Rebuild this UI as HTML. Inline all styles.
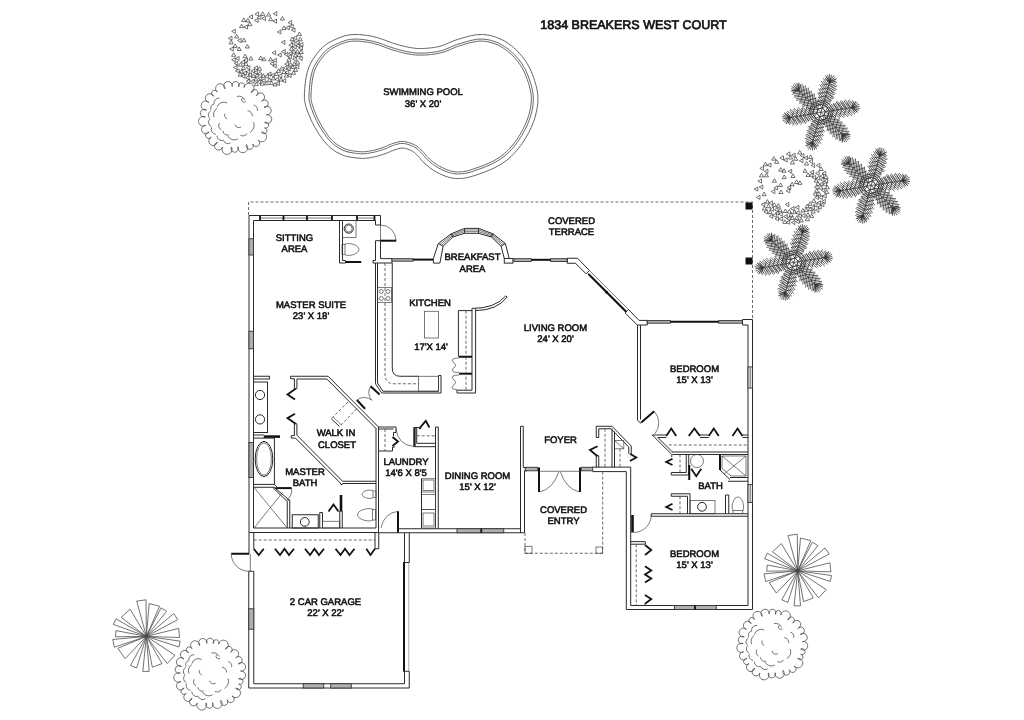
<!DOCTYPE html>
<html lang="en"><head><meta charset="utf-8"><title>1834 Breakers West Court</title><style>
html,body{margin:0;padding:0;background:#fff;}
svg{display:block;filter:grayscale(1);}
.w{stroke:#2a2a2a;stroke-width:1;fill:none;}
.wf{stroke:#2a2a2a;stroke-width:1;fill:#fff;}
.th{stroke:#444;stroke-width:.7;fill:none;}
.k{stroke:#111;stroke-width:2;fill:none;}
.k3{stroke:#111;stroke-width:2.6;fill:none;}
.b{stroke:#111;stroke-width:1.8;fill:none;stroke-linejoin:miter;}
.d{stroke:#444;stroke-width:.8;fill:none;stroke-dasharray:3 2;}
.g{stroke:#333;stroke-width:.9;fill:#b0b0b0;}
.gl{stroke:#333;stroke-width:.9;fill:#e4e4e4;}
.lt{stroke:#999;stroke-width:.8;fill:none;}
.bk{fill:#111;stroke:none;}
.tr{stroke:#444;stroke-width:.75;fill:none;}
.tr2{stroke:#3a3a3a;stroke-width:.7;fill:none;}
.pm{stroke:#2e2e2e;stroke-width:.75;fill:none;}
.pool{stroke:#555;stroke-width:.9;fill:none;}
.tt{stroke-width:.7 !important;}
.t{font-family:"Liberation Sans",sans-serif;fill:#111;text-anchor:middle;stroke:#111;stroke-width:.55;text-rendering:geometricPrecision;}
</style></head><body>
<svg width="1024" height="720" viewBox="0 0 1024 720">
<rect x="0" y="0" width="1024" height="720" fill="#fff"/>
<path d="M304.5,92.5 L304.7,89.8 L304.9,86.8 L305.2,83.6 L305.7,80.3 L306.2,76.9 L306.9,73.6 L307.7,70.5 L308.8,67.5 L310,64.7 L311.4,61.9 L313,59.2 L314.8,56.6 L316.7,54 L318.6,51.7 L320.5,49.5 L322.5,47.5 L324.5,45.7 L326.7,44.1 L328.9,42.7 L331.2,41.4 L333.5,40.3 L335.7,39.3 L337.9,38.3 L340,37.5 L342,36.8 L343.8,36.1 L345.6,35.6 L347.3,35.2 L349.1,34.9 L351,34.7 L352.9,34.6 L355,34.5 L357.3,34.5 L359.6,34.6 L362.1,34.8 L364.7,35.1 L367.3,35.5 L369.9,35.9 L372.5,36.4 L375,37 L377.5,37.7 L380.1,38.5 L382.7,39.4 L385.3,40.3 L387.9,41.3 L390.4,42.2 L392.7,43 L395,43.8 L397.1,44.4 L399.2,45 L401.1,45.5 L403,46 L404.8,46.4 L406.5,46.8 L408.3,47.2 L410,47.5 L411.6,47.8 L413.2,48 L414.7,48.2 L416.1,48.4 L417.6,48.5 L419.1,48.5 L420.7,48.5 L422.5,48.5 L424.4,48.4 L426.5,48.3 L428.7,48.1 L430.9,47.9 L433.2,47.6 L435.5,47.2 L437.8,46.8 L440,46.2 L442.2,45.6 L444.3,44.8 L446.3,44 L448.4,43 L450.6,42.1 L452.8,41.2 L455.1,40.3 L457.5,39.5 L460.1,38.7 L462.8,37.9 L465.7,37.1 L468.6,36.3 L471.5,35.6 L474.4,35.1 L477.3,34.7 L480,34.5 L482.6,34.5 L485.2,34.7 L487.8,35.1 L490.3,35.5 L492.8,36.1 L495.2,36.9 L497.6,37.8 L500,38.8 L502.3,39.9 L504.7,41.2 L507,42.6 L509.2,44.2 L511.4,45.8 L513.5,47.6 L515.6,49.4 L517.5,51.2 L519.3,53.2 L521.1,55.1 L522.8,57.2 L524.4,59.3 L525.9,61.5 L527.3,63.8 L528.7,66.2 L530,68.8 L531.2,71.4 L532.4,74.3 L533.6,77.4 L534.6,80.5 L535.5,83.6 L536.4,86.7 L537,89.7 L537.5,92.5 L537.8,95.2 L537.9,97.8 L537.9,100.3 L537.8,102.7 L537.6,105.2 L537.2,107.6 L536.8,110 L536.2,112.5 L535.7,115 L535,117.5 L534.2,120 L533.3,122.5 L532.3,125 L531.2,127.5 L530,130 L528.8,132.5 L527.4,135 L525.8,137.6 L524.2,140.3 L522.5,142.9 L520.7,145.5 L518.8,147.9 L516.9,150.3 L515,152.5 L513,154.5 L511.1,156.5 L509,158.3 L507,160 L504.8,161.6 L502.5,163.2 L500.1,164.8 L497.5,166.2 L494.7,167.7 L491.5,169.2 L488.2,170.6 L484.8,172 L481.4,173.2 L478.1,174.4 L475.1,175.4 L472.5,176.2 L470.2,176.9 L468.2,177.4 L466.4,177.8 L464.8,178.1 L463.2,178.3 L461.7,178.4 L460.3,178.5 L458.8,178.5 L457.2,178.5 L455.8,178.5 L454.4,178.4 L453,178.2 L451.7,178 L450.3,177.7 L448.9,177.3 L447.5,176.9 L446,176.4 L444.4,175.8 L442.8,175.2 L441.2,174.4 L439.6,173.7 L438,172.9 L436.5,172.1 L435,171.2 L433.6,170.4 L432.2,169.5 L430.9,168.5 L429.6,167.6 L428.4,166.6 L427.2,165.6 L426.1,164.7 L425,163.8 L424,162.9 L423.2,162 L422.4,161.1 L421.6,160.2 L420.9,159.4 L420.2,158.5 L419.5,157.7 L418.8,156.9 L418,156.1 L417.3,155.3 L416.5,154.6 L415.8,153.8 L415.1,153.1 L414.3,152.5 L413.4,151.8 L412.5,151.2 L411.5,150.7 L410.3,150.2 L409.1,149.7 L407.9,149.2 L406.7,148.8 L405.4,148.5 L404.2,148.2 L403.1,148.1 L402,148.1 L401,148.1 L400.1,148.3 L399.1,148.5 L398.1,148.7 L397.1,149.1 L396.1,149.4 L395,149.8 L393.9,150.1 L392.7,150.6 L391.5,151.1 L390.3,151.6 L389,152.2 L387.7,152.7 L386.4,153.3 L385,153.8 L383.6,154.2 L382.1,154.7 L380.5,155.2 L378.9,155.7 L377.3,156.1 L375.7,156.6 L374.1,156.9 L372.5,157.2 L371,157.5 L369.5,157.8 L368,158 L366.6,158.2 L365.1,158.3 L363.5,158.4 L361.8,158.4 L360,158.3 L358,158.1 L355.9,157.9 L353.7,157.7 L351.4,157.3 L349.1,156.9 L346.8,156.4 L344.6,155.8 L342.5,155 L340.5,154.1 L338.5,153.1 L336.6,152.1 L334.7,150.9 L332.8,149.6 L331,148.2 L329.2,146.7 L327.5,145 L325.8,143.2 L324.1,141.2 L322.5,139.1 L320.9,136.9 L319.3,134.6 L317.8,132.2 L316.4,129.9 L315,127.5 L313.7,125.1 L312.4,122.6 L311.1,120 L310,117.3 L308.9,114.7 L307.9,112.2 L307,109.8 L306.2,107.5 L305.7,105.5 L305.2,103.6 L304.8,101.9 L304.6,100.3 L304.4,98.6 L304.4,96.8 L304.4,94.8 Z" class="pool"/>
<path d="M309.1,92.8 L309.3,90.2 L309.5,87.2 L309.8,84.2 L310.2,81 L310.7,77.8 L311.4,74.7 L312.1,71.8 L313,69.2 L314.1,66.7 L315.5,64.1 L316.9,61.6 L318.6,59.2 L320.3,56.9 L322.1,54.7 L323.9,52.6 L325.7,50.8 L327.4,49.3 L329.3,47.9 L331.3,46.7 L333.3,45.5 L335.4,44.5 L337.6,43.5 L339.7,42.6 L341.7,41.8 L343.5,41.1 L345.2,40.5 L346.7,40.1 L348.2,39.7 L349.8,39.5 L351.4,39.3 L353.1,39.2 L355,39.1 L357.1,39.1 L359.3,39.2 L361.7,39.4 L364.1,39.7 L366.6,40.1 L369.1,40.5 L371.5,41 L373.9,41.5 L376.3,42.1 L378.7,42.8 L381.2,43.7 L383.7,44.6 L386.3,45.6 L388.8,46.5 L391.3,47.4 L393.6,48.1 L395.8,48.8 L397.9,49.4 L399.9,49.9 L401.8,50.4 L403.7,50.9 L405.6,51.3 L407.4,51.7 L409.2,52 L410.9,52.3 L412.5,52.6 L414.1,52.8 L415.7,53 L417.3,53.1 L419,53.1 L420.8,53.1 L422.7,53.1 L424.7,53 L426.9,52.9 L429.1,52.7 L431.5,52.4 L433.9,52.1 L436.3,51.7 L438.7,51.3 L441.2,50.7 L443.6,50 L445.9,49.1 L448.2,48.2 L450.3,47.3 L452.4,46.3 L454.5,45.4 L456.6,44.6 L458.9,43.9 L461.4,43.1 L464.1,42.3 L466.9,41.5 L469.7,40.8 L472.5,40.1 L475.2,39.6 L477.7,39.2 L480.1,39.1 L482.4,39.1 L484.8,39.3 L487.1,39.6 L489.3,40 L491.6,40.6 L493.8,41.3 L496,42 L498.1,42.9 L500.2,44 L502.3,45.1 L504.4,46.5 L506.5,47.9 L508.6,49.4 L510.5,51.1 L512.4,52.8 L514.2,54.5 L516,56.3 L517.6,58.1 L519.2,60 L520.6,62 L522.1,64 L523.4,66.2 L524.7,68.4 L525.9,70.8 L527,73.3 L528.2,76 L529.2,78.9 L530.2,81.9 L531.1,84.8 L531.9,87.8 L532.5,90.6 L532.9,93.2 L533.2,95.6 L533.4,97.9 L533.3,100.1 L533.2,102.4 L533,104.6 L532.7,106.8 L532.3,109.1 L531.8,111.5 L531.2,113.9 L530.6,116.2 L529.8,118.5 L529,120.9 L528,123.2 L527,125.6 L525.9,128 L524.7,130.3 L523.4,132.8 L521.9,135.3 L520.3,137.8 L518.7,140.3 L517,142.8 L515.2,145.1 L513.4,147.3 L511.6,149.4 L509.8,151.3 L507.9,153.1 L506,154.8 L504.1,156.4 L502.1,157.9 L500,159.4 L497.7,160.8 L495.3,162.2 L492.6,163.6 L489.6,165 L486.4,166.4 L483.1,167.7 L479.8,168.9 L476.6,170 L473.7,171 L471.1,171.9 L469,172.5 L467.2,173 L465.6,173.3 L464.1,173.5 L462.8,173.7 L461.5,173.8 L460.1,173.9 L458.7,173.9 L457.3,173.9 L456,173.9 L454.9,173.8 L453.7,173.6 L452.6,173.4 L451.4,173.2 L450.2,172.9 L448.9,172.5 L447.5,172.1 L446.1,171.5 L444.6,170.9 L443.1,170.3 L441.6,169.5 L440.1,168.8 L438.7,168 L437.3,167.3 L436.1,166.5 L434.8,165.7 L433.6,164.8 L432.4,163.9 L431.2,163 L430.1,162.1 L429.1,161.2 L428.1,160.3 L427.3,159.6 L426.5,158.8 L425.8,158.1 L425.2,157.2 L424.5,156.4 L423.7,155.5 L422.9,154.6 L422.1,153.7 L421.3,152.9 L420.6,152.2 L419.9,151.4 L419.1,150.6 L418.2,149.7 L417.1,148.9 L416,148 L414.8,147.3 L413.5,146.6 L412.2,146 L410.8,145.4 L409.4,144.9 L408,144.4 L406.5,144 L405,143.7 L403.5,143.5 L402,143.5 L400.6,143.5 L399.2,143.7 L398,144 L396.8,144.3 L395.7,144.7 L394.7,145 L393.6,145.4 L392.3,145.8 L391,146.3 L389.7,146.9 L388.4,147.4 L387.2,148 L386,148.5 L384.8,149 L383.5,149.4 L382.1,149.9 L380.7,150.3 L379.1,150.8 L377.6,151.3 L376.1,151.7 L374.6,152.1 L373.1,152.4 L371.6,152.7 L370.2,153 L368.7,153.2 L367.4,153.5 L366.1,153.6 L364.8,153.7 L363.4,153.8 L361.9,153.8 L360.3,153.7 L358.4,153.6 L356.4,153.4 L354.3,153.1 L352.2,152.8 L350,152.4 L348,151.9 L346,151.4 L344.2,150.7 L342.4,150 L340.7,149.1 L338.9,148.1 L337.2,147 L335.6,145.9 L333.9,144.6 L332.3,143.2 L330.8,141.8 L329.2,140.1 L327.7,138.3 L326.1,136.3 L324.6,134.2 L323.1,132 L321.7,129.8 L320.3,127.5 L319,125.2 L317.7,122.9 L316.5,120.5 L315.3,118 L314.2,115.5 L313.1,113 L312.2,110.6 L311.3,108.3 L310.6,106.1 L310.1,104.2 L309.7,102.6 L309.3,101.1 L309.1,99.7 L309,98.4 L309,96.8 L309,95 Z" class="pool"/>
<path d="M311.1,92.9 L311.3,90.3 L311.5,87.4 L311.8,84.4 L312.2,81.3 L312.7,78.1 L313.3,75.1 L314,72.4 L314.9,69.9 L315.9,67.5 L317.2,65.1 L318.6,62.7 L320.2,60.3 L321.9,58.1 L323.6,56 L325.3,54 L327,52.3 L328.7,50.9 L330.4,49.6 L332.3,48.4 L334.3,47.3 L336.3,46.3 L338.4,45.3 L340.4,44.4 L342.4,43.6 L344.2,43 L345.8,42.4 L347.2,42 L348.6,41.7 L350.1,41.4 L351.6,41.3 L353.2,41.2 L355.1,41.1 L357.1,41.1 L359.2,41.2 L361.5,41.4 L363.8,41.7 L366.3,42 L368.7,42.4 L371.1,42.9 L373.5,43.4 L375.7,44 L378.1,44.7 L380.5,45.6 L383,46.5 L385.6,47.4 L388.1,48.4 L390.6,49.3 L393,50.1 L395.3,50.7 L397.4,51.3 L399.4,51.9 L401.4,52.4 L403.3,52.9 L405.1,53.3 L407,53.7 L408.9,54 L410.6,54.3 L412.2,54.5 L413.9,54.8 L415.5,54.9 L417.2,55.1 L418.9,55.1 L420.8,55.1 L422.8,55.1 L424.8,55 L427,54.9 L429.3,54.7 L431.7,54.4 L434.2,54.1 L436.6,53.7 L439.2,53.2 L441.7,52.6 L444.2,51.9 L446.7,51 L448.9,50 L451.1,49.1 L453.2,48.2 L455.2,47.3 L457.3,46.5 L459.5,45.8 L462,45.1 L464.7,44.2 L467.4,43.5 L470.2,42.7 L472.9,42.1 L475.5,41.6 L477.9,41.2 L480.2,41.1 L482.4,41.1 L484.6,41.3 L486.8,41.6 L488.9,42 L491,42.5 L493.1,43.2 L495.2,43.9 L497.3,44.8 L499.3,45.7 L501.3,46.9 L503.3,48.1 L505.3,49.5 L507.3,51 L509.2,52.6 L511.1,54.2 L512.8,55.9 L514.5,57.6 L516.1,59.4 L517.6,61.3 L519,63.2 L520.4,65.1 L521.7,67.2 L522.9,69.4 L524.1,71.6 L525.2,74.1 L526.3,76.8 L527.3,79.6 L528.3,82.5 L529.2,85.4 L529.9,88.2 L530.5,90.9 L531,93.4 L531.2,95.7 L531.4,97.9 L531.3,100.1 L531.2,102.2 L531,104.3 L530.7,106.5 L530.3,108.8 L529.8,111.1 L529.3,113.4 L528.6,115.6 L527.9,117.9 L527.1,120.2 L526.2,122.5 L525.2,124.8 L524.1,127.1 L522.9,129.4 L521.6,131.8 L520.2,134.3 L518.6,136.7 L517,139.2 L515.4,141.6 L513.6,143.9 L511.9,146 L510.1,148 L508.4,149.9 L506.6,151.6 L504.7,153.3 L502.9,154.8 L500.9,156.3 L498.9,157.7 L496.6,159.1 L494.3,160.5 L491.7,161.8 L488.8,163.2 L485.7,164.5 L482.4,165.8 L479.1,167 L476,168.1 L473.1,169.1 L470.5,169.9 L468.5,170.6 L466.7,171 L465.2,171.3 L463.8,171.6 L462.6,171.7 L461.4,171.8 L460,171.9 L458.6,171.9 L457.3,171.9 L456.1,171.9 L455.1,171.8 L454,171.7 L452.9,171.5 L451.8,171.2 L450.7,171 L449.5,170.6 L448.2,170.2 L446.8,169.7 L445.4,169.1 L443.9,168.4 L442.5,167.7 L441,167 L439.6,166.3 L438.3,165.6 L437.2,164.8 L436,164 L434.8,163.2 L433.6,162.3 L432.5,161.4 L431.4,160.6 L430.4,159.7 L429.4,158.8 L428.7,158.1 L428,157.5 L427.4,156.7 L426.7,156 L426,155.1 L425.2,154.2 L424.4,153.2 L423.5,152.3 L422.8,151.6 L422.1,150.8 L421.3,150 L420.5,149.1 L419.5,148.2 L418.4,147.3 L417.1,146.4 L415.8,145.5 L414.4,144.8 L413,144.1 L411.6,143.5 L410.1,143 L408.5,142.5 L406.9,142.1 L405.3,141.7 L403.7,141.5 L402,141.5 L400.4,141.6 L398.9,141.8 L397.5,142.1 L396.2,142.4 L395.1,142.8 L394.1,143.1 L392.9,143.5 L391.6,143.9 L390.2,144.5 L388.9,145 L387.6,145.6 L386.4,146.1 L385.2,146.6 L384.1,147.1 L382.9,147.5 L381.5,148 L380,148.4 L378.6,148.9 L377.1,149.3 L375.6,149.8 L374.1,150.2 L372.7,150.5 L371.3,150.8 L369.8,151 L368.4,151.3 L367.1,151.5 L365.9,151.6 L364.6,151.7 L363.4,151.8 L362,151.8 L360.4,151.7 L358.6,151.6 L356.6,151.4 L354.6,151.1 L352.5,150.8 L350.4,150.5 L348.5,150 L346.6,149.5 L344.9,148.9 L343.3,148.1 L341.6,147.3 L339.9,146.4 L338.3,145.4 L336.7,144.3 L335.2,143.1 L333.7,141.8 L332.2,140.3 L330.7,138.8 L329.2,137 L327.7,135.1 L326.3,133.1 L324.8,130.9 L323.4,128.7 L322,126.5 L320.8,124.3 L319.5,122 L318.3,119.6 L317.1,117.2 L316,114.7 L315,112.3 L314,109.9 L313.2,107.6 L312.6,105.6 L312,103.7 L311.6,102.1 L311.3,100.7 L311.1,99.5 L311,98.2 L311,96.8 L311,95 Z" class="pool"/>
<path d="M298.8,48.1 L302.4,46.0 L302.4,50.2Z M259.1,76.9 L254.9,76.9 L257.0,73.3Z M278.1,75.8 L281.7,73.8 L281.7,77.9Z M266.6,81.1 L268.7,84.7 L264.5,84.7Z M288.8,45.2 L292.4,43.1 L292.4,47.3Z M247.9,74.9 L251.5,72.8 L251.5,77.0Z M288.4,77.1 L284.2,77.1 L286.3,73.5Z M298.7,58.4 L302.3,56.4 L302.3,60.5Z M246.3,67.7 L249.9,65.7 L249.9,69.8Z M293.2,37.9 L296.8,35.8 L296.8,40.0Z M245.6,69.5 L241.4,69.5 L243.5,65.9Z M295.4,53.3 L297.5,56.9 L293.3,56.9Z M294.2,40.7 L290.0,40.7 L292.1,37.1Z M291.0,61.2 L286.8,61.2 L288.9,57.6Z M264.8,76.3 L268.4,74.3 L268.4,78.4Z M233.4,67.4 L237.0,65.3 L237.0,69.4Z M292.6,47.0 L296.2,45.0 L296.2,49.1Z M257.0,81.9 L260.6,79.9 L260.6,84.0Z M294.3,61.7 L296.4,65.3 L292.3,65.3Z M241.3,76.2 L244.9,74.1 L244.9,78.2Z M253.5,73.9 L255.6,77.5 L251.4,77.5Z M297.5,49.5 L299.6,53.1 L295.4,53.1Z M286.7,68.7 L290.3,66.7 L290.3,70.8Z M283.2,81.1 L279.0,81.1 L281.1,77.5Z M278.5,68.8 L280.6,72.4 L276.4,72.4Z M283.2,67.8 L286.8,65.8 L286.8,69.9Z M275.4,79.9 L271.3,79.9 L273.3,76.3Z M248.1,65.6 L243.9,65.6 L246.0,62.0Z M250.5,81.3 L254.1,79.2 L254.1,83.4Z M302.3,40.9 L298.1,40.9 L300.2,37.3Z M275.1,79.4 L278.7,77.3 L278.7,81.5Z M296.0,45.7 L299.6,43.6 L299.6,47.8Z M284.8,64.0 L288.4,61.9 L288.4,66.1Z M271.5,81.0 L273.5,84.6 L269.4,84.6Z M261.6,80.5 L265.2,78.5 L265.2,82.6Z M295.2,66.8 L298.8,64.7 L298.8,68.8Z M246.2,81.2 L249.8,79.1 L249.8,83.2Z M270.7,75.2 L274.3,73.2 L274.3,77.3Z M282.1,80.8 L285.7,78.7 L285.7,82.9Z M256.1,77.3 L258.2,80.9 L254.0,80.9Z M235.5,71.0 L239.1,68.9 L239.1,73.0Z M294.8,68.6 L290.6,68.6 L292.7,65.0Z M242.8,73.1 L246.4,71.0 L246.4,75.2Z M297.6,60.4 L299.7,64.0 L295.5,64.0Z M251.0,70.9 L254.6,68.9 L254.6,73.0Z M240.5,62.6 L242.5,66.2 L238.4,66.2Z M299.3,44.6 L302.9,42.5 L302.9,46.7Z M295.7,74.3 L291.5,74.3 L293.6,70.7Z M292.7,59.2 L296.3,57.1 L296.3,61.3Z M242.2,76.2 L238.1,76.2 L240.2,72.6Z M287.8,56.8 L291.4,54.7 L291.4,58.9Z M295.6,42.3 L299.2,40.2 L299.2,44.4Z M245.5,77.8 L249.1,75.7 L249.1,79.9Z M263.3,73.7 L265.4,77.3 L261.2,77.3Z M285.2,72.3 L288.8,70.2 L288.8,74.4Z M262.2,81.6 L264.3,85.2 L260.1,85.2Z M294.0,49.5 L296.1,53.1 L291.9,53.1Z M283.8,70.2 L279.6,70.2 L281.7,66.6Z M275.9,83.5 L279.5,81.4 L279.5,85.5Z M256.3,82.1 L258.3,85.7 L254.2,85.7Z M269.6,77.8 L271.6,81.4 L267.5,81.4Z M290.5,62.4 L292.6,66.0 L288.4,66.0Z M275.1,82.4 L277.2,86.0 L273.0,86.0Z M303.3,53.5 L299.1,53.5 L301.2,49.9Z M295.5,67.8 L297.6,71.4 L293.5,71.4Z M287.5,75.5 L291.1,73.4 L291.1,77.5Z M301.5,35.6 L297.3,35.6 L299.4,32.0Z M286.1,73.5 L281.9,73.5 L284.0,69.9Z M239.2,71.8 L242.8,69.7 L242.8,73.9Z M258.3,78.6 L261.9,76.5 L261.9,80.6Z M278.5,75.4 L274.4,75.4 L276.5,71.8Z M301.3,56.4 L297.1,56.4 L299.2,52.8Z M291.2,42.6 L294.8,40.5 L294.8,44.7Z M246.1,71.8 L249.7,69.7 L249.7,73.9Z M291.5,46.6 L293.5,50.2 L289.4,50.2Z M260.0,71.2 L262.1,74.8 L257.9,74.8Z M267.4,74.0 L271.0,72.0 L271.0,76.1Z M288.5,53.4 L292.1,51.3 L292.1,55.4Z M240.9,62.1 L244.5,60.0 L244.5,64.2Z M243.8,17.9 L245.9,21.5 L241.7,21.5Z M231.7,31.3 L235.3,29.2 L235.3,33.4Z M233.2,43.9 L229.0,43.9 L231.1,40.3Z M244.0,26.9 L247.6,24.9 L247.6,29.0Z M270.6,17.1 L272.7,20.7 L268.6,20.7Z M249.9,22.1 L252.0,25.7 L247.8,25.7Z M291.4,30.1 L295.0,28.0 L295.0,32.2Z M231.6,59.8 L235.2,57.7 L235.2,61.9Z M255.0,14.1 L258.6,12.0 L258.6,16.2Z M270.8,16.1 L266.6,16.1 L268.7,12.5Z M235.8,56.3 L231.6,56.3 L233.7,52.7Z M261.9,18.4 L265.5,16.3 L265.5,20.5Z M243.7,27.7 L239.6,27.7 L241.6,24.1Z M272.9,21.1 L276.5,19.0 L276.5,23.2Z M235.5,58.5 L239.1,56.4 L239.1,60.5Z M229.7,49.0 L233.3,46.9 L233.3,51.1Z M228.4,38.3 L232.0,36.2 L232.0,40.4Z M254.5,20.4 L258.1,18.4 L258.1,22.5Z M289.6,26.4 L293.2,24.3 L293.2,28.5Z M264.8,15.4 L260.7,15.4 L262.7,11.8Z M288.0,22.5 L291.6,20.5 L291.6,24.6Z M248.9,16.9 L252.5,14.8 L252.5,19.0Z M257.3,17.4 L260.9,15.3 L260.9,19.5Z M284.4,20.0 L280.3,20.0 L282.4,16.4Z M237.2,47.6 L233.1,47.6 L235.2,44.0Z M273.2,13.7 L276.8,11.6 L276.8,15.8Z M238.8,38.0 L234.6,38.0 L236.7,34.4Z M285.7,27.7 L289.3,25.6 L289.3,29.8Z M247.9,18.4 L250.0,22.0 L245.9,22.0Z M234.2,63.4 L237.8,61.3 L237.8,65.4Z M252.9,60.1 L248.8,60.1 L250.9,56.5Z M243.9,60.1 L247.5,58.1 L247.5,62.2Z M245.1,54.1 L247.2,57.7 L243.0,57.7Z M272.1,52.8 L275.7,50.8 L275.7,54.9Z M272.7,65.7 L276.3,63.7 L276.3,67.8Z M281.3,42.3 L284.9,40.3 L284.9,44.4Z M261.7,70.2 L257.6,70.2 L259.6,66.6Z M253.8,72.4 L257.4,70.4 L257.4,74.5Z M264.0,57.2 L266.1,60.8 L261.9,60.8Z M260.7,56.0 L262.8,59.6 L258.6,59.6Z M281.6,51.5 L285.2,49.4 L285.2,53.6Z M277.6,55.0 L281.2,52.9 L281.2,57.1Z M284.2,54.4 L287.8,52.3 L287.8,56.5Z M270.1,63.7 L273.7,61.7 L273.7,65.8Z M270.6,57.4 L272.7,61.0 L268.5,61.0Z M283.9,25.9 L286.0,29.5 L281.8,29.5Z M277.3,32.0 L280.9,29.9 L280.9,34.0Z M253.8,67.9 L257.4,65.9 L257.4,70.0Z M237.6,40.5 L241.2,38.4 L241.2,42.6Z M249.4,48.0 L245.2,48.0 L247.3,44.4Z M246.0,41.8 L241.9,41.8 L243.9,38.2Z M241.2,50.5 L237.1,50.5 L239.1,46.9Z M272.8,60.4 L276.4,58.3 L276.4,62.4Z " class="tr2"/>
<path d="M766.5,210.0 L762.3,210.0 L764.4,206.4Z M816.2,178.6 L818.3,182.2 L814.2,182.2Z M772.8,215.3 L776.4,213.2 L776.4,217.4Z M790.9,212.7 L793.0,216.3 L788.9,216.3Z M796.8,215.8 L798.9,219.4 L794.8,219.4Z M795.6,212.7 L799.2,210.7 L799.2,214.8Z M812.3,210.7 L808.2,210.7 L810.2,207.1Z M787.0,223.4 L782.8,223.4 L784.9,219.8Z M768.4,204.1 L770.5,207.7 L766.3,207.7Z M815.3,210.2 L818.9,208.1 L818.9,212.3Z M801.5,215.6 L805.1,213.5 L805.1,217.7Z M813.0,194.4 L816.6,192.3 L816.6,196.4Z M813.8,198.7 L815.9,202.3 L811.7,202.3Z M807.4,217.1 L809.5,220.7 L805.3,220.7Z M772.1,213.6 L768.0,213.6 L770.1,210.0Z M779.1,218.9 L782.7,216.8 L782.7,221.0Z M768.8,203.0 L772.4,200.9 L772.4,205.1Z M769.8,209.2 L773.4,207.1 L773.4,211.3Z M801.3,218.4 L803.4,222.0 L799.3,222.0Z M783.6,216.6 L787.2,214.5 L787.2,218.6Z M819.0,191.7 L821.1,195.3 L816.9,195.3Z M794.6,219.5 L790.5,219.5 L792.5,215.9Z M794.6,210.0 L796.7,213.6 L792.5,213.6Z M787.5,212.6 L783.4,212.6 L785.4,209.0Z M822.6,196.1 L826.2,194.0 L826.2,198.2Z M819.5,184.1 L823.1,182.1 L823.1,186.2Z M774.4,209.7 L778.0,207.6 L778.0,211.8Z M813.2,209.5 L815.3,213.1 L811.1,213.1Z M816.2,178.1 L819.8,176.0 L819.8,180.2Z M821.3,190.3 L824.9,188.2 L824.9,192.4Z M824.0,181.1 L827.6,179.1 L827.6,183.2Z M820.0,176.1 L823.6,174.0 L823.6,178.2Z M782.2,211.7 L778.0,211.7 L780.1,208.1Z M810.2,201.7 L812.2,205.3 L808.1,205.3Z M806.3,207.7 L808.3,211.3 L804.2,211.3Z M802.9,208.5 L804.9,212.1 L800.8,212.1Z M814.4,187.3 L818.0,185.2 L818.0,189.4Z M818.8,197.5 L822.4,195.4 L822.4,199.6Z M812.0,177.5 L815.6,175.4 L815.6,179.5Z M818.0,181.7 L820.1,185.3 L815.9,185.3Z M817.0,202.8 L820.6,200.8 L820.6,204.9Z M810.9,207.8 L814.5,205.7 L814.5,209.8Z M791.3,222.5 L794.9,220.4 L794.9,224.6Z M789.4,209.4 L791.4,213.0 L787.3,213.0Z M823.0,189.0 L818.8,189.0 L820.9,185.4Z M761.2,204.4 L764.8,202.4 L764.8,206.5Z M797.7,215.8 L801.3,213.7 L801.3,217.9Z M810.0,216.2 L805.9,216.2 L808.0,212.6Z M778.7,214.1 L782.3,212.0 L782.3,216.2Z M774.3,202.8 L776.4,206.4 L772.2,206.4Z M821.7,201.5 L825.3,199.4 L825.3,203.6Z M822.9,184.3 L826.5,182.3 L826.5,186.4Z M817.6,207.0 L821.2,204.9 L821.2,209.1Z M786.1,222.2 L789.7,220.2 L789.7,224.3Z M826.7,189.8 L828.8,193.4 L824.7,193.4Z M769.4,203.2 L765.3,203.2 L767.4,199.6Z M774.9,218.8 L778.5,216.7 L778.5,220.9Z M820.3,179.7 L823.9,177.7 L823.9,181.8Z M811.7,214.0 L813.8,217.6 L809.6,217.6Z M814.8,197.5 L818.4,195.4 L818.4,199.5Z M816.6,188.7 L818.6,192.3 L814.5,192.3Z M813.4,205.1 L817.0,203.0 L817.0,207.1Z M822.1,173.3 L825.7,171.3 L825.7,175.4Z M826.0,175.0 L828.1,178.6 L823.9,178.6Z M769.1,216.3 L772.7,214.2 L772.7,218.4Z M829.3,188.8 L825.2,188.8 L827.3,185.2Z M807.3,204.1 L809.3,207.7 L805.2,207.7Z M786.6,218.5 L790.2,216.4 L790.2,220.5Z M763.8,211.9 L767.4,209.8 L767.4,214.0Z M775.3,213.1 L778.9,211.0 L778.9,215.1Z M820.3,204.6 L823.9,202.5 L823.9,206.7Z M795.6,221.6 L799.2,219.5 L799.2,223.6Z M783.6,160.0 L787.2,157.9 L787.2,162.1Z M766.2,195.7 L762.1,195.7 L764.1,192.1Z M799.4,160.7 L803.0,158.7 L803.0,162.8Z M811.0,165.5 L814.6,163.4 L814.6,167.5Z M790.6,155.4 L792.7,159.0 L788.5,159.0Z M791.5,155.2 L795.1,153.2 L795.1,157.3Z M759.9,168.4 L763.5,166.3 L763.5,170.4Z M759.2,187.0 L762.8,185.0 L762.8,189.1Z M797.8,160.3 L793.6,160.3 L795.7,156.7Z M808.6,165.0 L804.4,165.0 L806.5,161.4Z M765.4,162.2 L767.5,165.8 L763.3,165.8Z M766.4,173.3 L768.5,176.9 L764.3,176.9Z M803.9,157.9 L807.5,155.8 L807.5,159.9Z M763.6,176.9 L759.4,176.9 L761.5,173.3Z M764.3,171.3 L767.9,169.2 L767.9,173.4Z M778.8,163.3 L774.6,163.3 L776.7,159.7Z M801.8,154.0 L797.6,154.0 L799.7,150.4Z M815.5,173.3 L819.1,171.3 L819.1,175.4Z M754.2,189.0 L757.8,187.0 L757.8,191.1Z M823.2,170.5 L819.0,170.5 L821.1,166.9Z M809.0,161.3 L812.6,159.2 L812.6,163.4Z M773.8,156.6 L775.8,160.2 L771.7,160.2Z M767.3,165.0 L770.9,163.0 L770.9,167.1Z M812.7,158.5 L808.5,158.5 L810.6,154.9Z M757.9,181.1 L761.5,179.0 L761.5,183.2Z M786.3,154.0 L789.9,151.9 L789.9,156.1Z M779.9,157.9 L783.5,155.8 L783.5,160.0Z M756.4,197.4 L760.0,195.3 L760.0,199.5Z M800.3,155.7 L803.9,153.6 L803.9,157.8Z M816.3,165.5 L819.9,163.4 L819.9,167.6Z M773.9,187.9 L777.5,185.8 L777.5,190.0Z M771.3,191.6 L774.9,189.5 L774.9,193.7Z M788.1,171.3 L791.7,169.3 L791.7,173.4Z M799.9,180.8 L801.9,184.4 L797.8,184.4Z M798.6,183.5 L794.5,183.5 L796.5,179.9Z M795.0,177.5 L790.9,177.5 L793.0,173.9Z M776.5,182.2 L772.4,182.2 L774.5,178.6Z M782.7,186.5 L778.5,186.5 L780.6,182.9Z M783.0,193.5 L778.8,193.5 L780.9,189.9Z M794.5,164.0 L790.3,164.0 L792.4,160.4Z M810.1,176.5 L805.9,176.5 L808.0,172.9Z M810.0,172.3 L813.6,170.2 L813.6,174.3Z M805.1,168.7 L807.1,172.3 L803.0,172.3Z M809.4,175.5 L813.0,173.4 L813.0,177.5Z M794.2,185.8 L790.0,185.8 L792.1,182.2Z M786.1,190.9 L789.7,188.8 L789.7,192.9Z M787.1,187.5 L790.7,185.5 L790.7,189.6Z M780.4,207.2 L776.2,207.2 L778.3,203.6Z M795.3,207.4 L798.9,205.3 L798.9,209.5Z M785.2,204.5 L788.8,202.4 L788.8,206.6Z M790.6,208.6 L794.2,206.5 L794.2,210.7Z M784.2,175.0 L786.3,178.6 L782.1,178.6Z M786.1,172.3 L781.9,172.3 L784.0,168.7Z M782.9,171.2 L778.7,171.2 L780.8,167.6Z " class="tr2"/>
<path d="M251.2,92.7 A3.4,3.4 0 1 1 256.4,95.8 A4.2,4.2 0 1 1 261.5,101.2 A3.8,3.8 0 1 1 264.0,107.4 A4.3,4.3 0 1 1 266.4,114.8 A4.4,4.4 0 1 1 264.5,122.4 A3.0,3.0 0 1 1 264.6,127.9 A2.9,2.9 0 1 1 261.5,132.0 A4.9,4.9 0 1 1 257.8,139.9 A3.5,3.5 0 1 1 252.8,143.9 A3.6,3.6 0 1 1 246.4,144.4 A4.9,4.9 0 1 1 238.0,146.8 A3.7,3.7 0 1 1 231.4,147.0 A5.0,5.0 0 1 1 222.5,147.2 A4.1,4.1 0 1 1 217.3,142.1 A4.3,4.3 0 1 1 211.3,137.3 A3.2,3.2 0 1 1 209.1,132.1 A4.2,4.2 0 1 1 205.8,125.4 A4.8,4.8 0 1 1 205.3,116.9 A3.9,3.9 0 1 1 206.5,110.0 A4.5,4.5 0 1 1 208.9,102.4 A4.4,4.4 0 1 1 213.7,96.2 A3.0,3.0 0 1 1 217.2,92.0 A4.7,4.7 0 1 1 225.0,88.9 A4.3,4.3 0 1 1 232.3,86.5 A3.6,3.6 0 1 1 238.7,86.9 A3.0,3.0 0 1 1 244.0,87.5 A5.0,5.0 0 1 1 251.2,92.7 M230.6,142.8 A4.6,4.6 0 0 1 223.5,140.4 M223.3,140.3 A4.9,4.9 0 0 1 216.9,135.6 M215.8,134.3 A5.0,5.0 0 0 1 211.6,127.4 M211.3,126.5 A4.7,4.7 0 0 1 209.8,119.0 M209.8,118.6 A4.9,4.9 0 0 1 210.8,110.8 M211.1,109.9 A4.0,4.0 0 0 1 214.0,104.1 M214.1,104.0 A4.9,4.9 0 0 1 219.5,98.2 M217.0,107.2 A7.2,7.2 0 0 1 227.1,102.9 M214.1,117.3 A7.2,7.2 0 0 1 217.0,108.3 M236.8,96.4 A7.2,7.2 0 0 1 244.7,100.0 M242.2,98.2 A2.2,2.2 0 0 0 245.8,101.4 M235.0,124.5 A4.0,4.0 0 0 0 241.1,127.0 M250.1,132.4 A8.6,8.6 0 0 0 253.7,122.3 M227.8,136.0 A7.2,7.2 0 0 0 237.9,138.9 M247.6,110.8 A5.0,5.0 0 0 1 252.3,116.2 M223.1,131.0 A4.3,4.3 0 0 0 228.9,134.9 M240.4,135.3 A4.7,4.7 0 0 0 246.9,133.5 M219.5,123.0 A4.7,4.7 0 0 0 221.3,129.9 M253.7,105.0 A4.7,4.7 0 0 1 257.3,110.8 M224.9,113.7 A3.6,3.6 0 0 0 227.1,118.7" class="tr"/>
<path d="M225.6,649.4 A3.3,3.3 0 1 1 230.7,652.4 A4.1,4.1 0 1 1 235.8,657.7 A3.7,3.7 0 1 1 238.2,663.9 A4.3,4.3 0 1 1 240.6,671.1 A4.3,4.3 0 1 1 238.6,678.7 A3.0,3.0 0 1 1 238.7,684.0 A2.9,2.9 0 1 1 235.7,688.1 A4.8,4.8 0 1 1 232.0,695.9 A3.5,3.5 0 1 1 227.2,699.8 A3.6,3.6 0 1 1 220.9,700.4 A4.8,4.8 0 1 1 212.6,702.7 A3.7,3.7 0 1 1 206.1,702.9 A4.9,4.9 0 1 1 197.3,703.1 A4.0,4.0 0 1 1 192.1,698.1 A4.2,4.2 0 1 1 186.2,693.4 A3.1,3.1 0 1 1 184.1,688.2 A4.2,4.2 0 1 1 180.8,681.6 A4.7,4.7 0 1 1 180.3,673.2 A3.9,3.9 0 1 1 181.5,666.4 A4.4,4.4 0 1 1 183.9,658.9 A4.3,4.3 0 1 1 188.6,652.8 A3.0,3.0 0 1 1 192.0,648.7 A4.6,4.6 0 1 1 199.7,645.6 A4.2,4.2 0 1 1 206.9,643.3 A3.6,3.6 0 1 1 213.3,643.6 A2.9,2.9 0 1 1 218.5,644.2 A4.9,4.9 0 1 1 225.6,649.4 M205.3,698.8 A4.6,4.6 0 0 1 198.3,696.4 M198.1,696.3 A4.9,4.9 0 0 1 191.8,691.6 M190.6,690.4 A4.9,4.9 0 0 1 186.5,683.6 M186.2,682.6 A4.6,4.6 0 0 1 184.8,675.3 M184.8,674.9 A4.8,4.8 0 0 1 185.8,667.2 M186.1,666.3 A3.9,3.9 0 0 1 188.9,660.6 M188.9,660.5 A4.9,4.9 0 0 1 194.3,654.7 M191.8,663.6 A7.1,7.1 0 0 1 201.8,659.4 M189.0,673.6 A7.1,7.1 0 0 1 191.8,664.7 M211.4,653.0 A7.1,7.1 0 0 1 219.2,656.5 M216.7,654.8 A2.1,2.1 0 0 0 220.2,658.0 M209.6,680.7 A3.9,3.9 0 0 0 215.6,683.2 M224.5,688.5 A8.5,8.5 0 0 0 228.1,678.6 M202.5,692.0 A7.1,7.1 0 0 0 212.4,694.9 M222.0,667.2 A5.0,5.0 0 0 1 226.6,672.5 M197.9,687.1 A4.3,4.3 0 0 0 203.6,691.0 M214.9,691.3 A4.6,4.6 0 0 0 221.3,689.6 M194.3,679.3 A4.6,4.6 0 0 0 196.1,686.0 M228.1,661.5 A4.6,4.6 0 0 1 231.6,667.2 M199.7,670.0 A3.6,3.6 0 0 0 201.8,675.0" class="tr"/>
<path d="M787.8,620.1 A3.3,3.3 0 1 1 792.8,623.1 A4.1,4.1 0 1 1 797.8,628.4 A3.7,3.7 0 1 1 800.2,634.4 A4.2,4.2 0 1 1 802.5,641.6 A4.3,4.3 0 1 1 800.6,649.0 A3.0,3.0 0 1 1 800.7,654.3 A2.8,2.8 0 1 1 797.7,658.3 A4.8,4.8 0 1 1 794.1,666.0 A3.4,3.4 0 1 1 789.3,669.8 A3.5,3.5 0 1 1 783.1,670.4 A4.7,4.7 0 1 1 775.0,672.7 A3.6,3.6 0 1 1 768.5,672.9 A4.8,4.8 0 1 1 759.9,673.0 A4.0,4.0 0 1 1 754.8,668.1 A4.2,4.2 0 1 1 749.0,663.5 A3.1,3.1 0 1 1 746.9,658.4 A4.1,4.1 0 1 1 743.6,651.9 A4.6,4.6 0 1 1 743.1,643.6 A3.8,3.8 0 1 1 744.3,636.9 A4.4,4.4 0 1 1 746.6,629.5 A4.2,4.2 0 1 1 751.3,623.5 A3.0,3.0 0 1 1 754.7,619.5 A4.6,4.6 0 1 1 762.2,616.4 A4.2,4.2 0 1 1 769.3,614.1 A3.5,3.5 0 1 1 775.6,614.4 A2.9,2.9 0 1 1 780.7,615.0 A4.9,4.9 0 1 1 787.8,620.1 M767.7,668.8 A4.5,4.5 0 0 1 760.9,666.5 M760.6,666.4 A4.8,4.8 0 0 1 754.4,661.8 M753.3,660.5 A4.9,4.9 0 0 1 749.3,653.8 M748.9,652.9 A4.6,4.6 0 0 1 747.5,645.7 M747.5,645.3 A4.7,4.7 0 0 1 748.5,637.7 M748.8,636.8 A3.9,3.9 0 0 1 751.6,631.2 M751.6,631.1 A4.8,4.8 0 0 1 756.9,625.4 M754.5,634.2 A7.0,7.0 0 0 1 764.3,630.0 M751.7,644.0 A7.0,7.0 0 0 1 754.5,635.2 M773.8,623.7 A7.0,7.0 0 0 1 781.5,627.2 M779.0,625.5 A2.1,2.1 0 0 0 782.5,628.6 M772.0,651.0 A3.9,3.9 0 0 0 778.0,653.5 M786.7,658.7 A8.4,8.4 0 0 0 790.2,648.9 M765.0,662.2 A7.0,7.0 0 0 0 774.8,665.0 M784.2,637.7 A4.9,4.9 0 0 1 788.8,643.0 M760.5,657.3 A4.2,4.2 0 0 0 766.0,661.2 M777.2,661.5 A4.5,4.5 0 0 0 783.5,659.8 M757.0,649.6 A4.5,4.5 0 0 0 758.7,656.2 M790.2,632.1 A4.5,4.5 0 0 1 793.7,637.7 M762.2,640.5 A3.5,3.5 0 0 0 764.3,645.4" class="tr"/>
<path d="M146.4,636.4 L146.0,599.8 L136.7,601.1 Z M146.4,636.4 L159.5,606.2 L149.2,603.6 Z M146.4,636.4 L166.6,611.3 L161.1,607.8 Z M146.4,636.4 L177.8,619.6 L173.7,613.6 Z M146.4,636.4 L179.6,637.5 L178.6,628.4 Z M146.4,636.4 L178.9,647.0 L180.2,641.1 Z M146.4,636.4 L167.2,663.6 L174.9,655.2 Z M146.4,636.4 L152.3,667.2 L162.0,663.6 Z M146.4,636.4 L142.8,671.4 L149.2,671.4 Z M146.4,636.4 L130.5,665.4 L136.6,668.0 Z M146.4,636.4 L117.9,648.3 L125.1,658.7 Z M146.4,636.4 L112.7,639.5 L114.4,647.2 Z M146.4,636.4 L116.0,630.6 L115.4,636.8 Z M146.4,636.4 L116.0,618.8 L113.4,624.4 Z M146.4,636.4 L130.1,609.2 L121.1,617.4 Z " class="tr"/>
<path d="M797.7,570.8 L797.3,534.2 L788.0,535.5 Z M797.7,570.8 L810.8,540.6 L800.5,538.0 Z M797.7,570.8 L817.9,545.7 L812.4,542.2 Z M797.7,570.8 L829.1,554.0 L825.0,548.0 Z M797.7,570.8 L830.9,571.9 L829.9,562.8 Z M797.7,570.8 L830.2,581.4 L831.5,575.5 Z M797.7,570.8 L818.5,598.0 L826.2,589.6 Z M797.7,570.8 L803.6,601.6 L813.3,598.0 Z M797.7,570.8 L794.1,605.8 L800.5,605.8 Z M797.7,570.8 L781.8,599.8 L787.9,602.4 Z M797.7,570.8 L769.2,582.7 L776.4,593.1 Z M797.7,570.8 L764.0,573.9 L765.7,581.6 Z M797.7,570.8 L767.3,565.0 L766.7,571.2 Z M797.7,570.8 L767.3,553.2 L764.7,558.8 Z M797.7,570.8 L781.4,543.6 L772.4,551.8 Z " class="tr"/>
<path d="M821.0,112.3 L830.9,77.7 M822.2,108.0 L827.4,105.8 M822.2,108.0 L825.4,111.1 M822.2,108.0 L819.0,103.4 M822.2,108.0 L817.9,109.0 M822.8,106.0 L830.5,102.7 M822.8,106.0 L818.0,99.2 M823.4,103.9 L831.4,100.6 M823.4,103.9 L828.4,108.9 M823.4,103.9 L818.4,96.8 M823.4,103.9 L816.6,105.5 M824.0,101.9 L834.4,97.6 M824.0,101.9 L817.5,92.7 M824.6,99.9 L833.5,96.2 M824.6,99.9 L830.1,105.4 M824.6,99.9 L818.9,92.0 M824.6,99.9 L817.0,101.6 M825.1,97.9 L835.5,93.5 M825.1,97.9 L818.6,88.7 M825.7,95.9 L834.7,92.1 M825.7,95.9 L831.2,101.3 M825.7,95.9 L820.1,88.0 M825.7,95.9 L818.1,97.6 M826.3,93.8 L836.7,89.5 M826.3,93.8 L819.8,84.7 M826.9,91.8 L835.8,88.1 M826.9,91.8 L832.4,97.3 M826.9,91.8 L821.3,83.9 M826.9,91.8 L819.3,93.5 M827.4,89.8 L837.4,85.7 M827.4,89.8 L821.2,81.1 M828.0,87.8 L835.9,84.5 M828.0,87.8 L832.9,92.6 M828.0,87.8 L823.1,80.8 M828.0,87.8 L821.4,89.3 M828.6,85.8 L837.0,82.3 M828.6,85.8 L823.3,78.3 M829.2,83.8 L835.8,81.0 M829.2,83.8 L833.3,87.8 M829.2,83.8 L825.0,77.9 M829.2,83.8 L823.6,85.0 M829.8,81.7 L836.7,78.8 M829.8,81.7 L825.4,75.6 M829.5,82.5 L825.2,78.3 M829.5,82.5 L826.2,76.4 M829.5,82.5 L827.6,74.7 M829.5,82.5 L829.7,74.0 M829.5,82.5 L831.7,74.8 M829.5,82.5 L833.9,75.2 M829.5,82.5 L835.3,76.9 M829.5,82.5 L835.7,79.1 M829.5,82.5 L835.4,81.3 M821.0,112.3 L856.6,106.9 M825.4,111.6 L829.6,115.4 M825.4,111.6 L823.9,115.8 M825.4,111.6 L828.2,106.8 M825.4,111.6 L822.7,108.1 M827.5,111.3 L833.6,116.9 M827.5,111.3 L831.7,104.1 M829.6,111.0 L836.0,116.9 M829.6,111.0 L827.2,117.6 M829.6,111.0 L834.0,103.4 M829.6,111.0 L825.3,105.4 M831.7,110.7 L840.0,118.3 M831.7,110.7 L837.3,100.9 M833.8,110.3 L840.9,116.9 M833.8,110.3 L831.1,117.6 M833.8,110.3 L838.6,102.0 M833.8,110.3 L829.0,104.2 M835.8,110.0 L844.1,117.7 M835.8,110.0 L841.5,100.3 M837.9,109.7 L845.0,116.3 M837.9,109.7 L835.2,117.0 M837.9,109.7 L842.7,101.3 M837.9,109.7 L833.2,103.5 M840.0,109.4 L848.3,117.0 M840.0,109.4 L845.6,99.6 M842.1,109.1 L849.2,115.6 M842.1,109.1 L839.4,116.4 M842.1,109.1 L846.9,100.7 M842.1,109.1 L837.3,102.9 M844.1,108.8 L852.0,116.0 M844.1,108.8 L849.5,99.5 M846.2,108.4 L852.5,114.2 M846.2,108.4 L843.9,114.9 M846.2,108.4 L850.5,101.0 M846.2,108.4 L842.0,103.0 M848.3,108.1 L855.0,114.3 M848.3,108.1 L852.8,100.2 M850.4,107.8 L855.6,112.7 M850.4,107.8 L848.4,113.2 M850.4,107.8 L853.9,101.6 M850.4,107.8 L846.9,103.3 M852.4,107.5 L858.0,112.6 M852.4,107.5 L856.2,101.0 M851.6,107.6 L853.6,101.9 M851.6,107.6 L855.8,102.0 M851.6,107.6 L857.9,102.6 M851.6,107.6 L859.4,104.2 M851.6,107.6 L859.6,106.4 M851.6,107.6 L860.1,108.5 M851.6,107.6 L859.1,110.5 M851.6,107.6 L857.3,111.8 M851.6,107.6 L855.2,112.4 M821.0,112.3 L846.0,138.2 M824.1,115.5 L823.4,121.1 M824.1,115.5 L819.8,116.7 M824.1,115.5 L829.7,115.0 M824.1,115.5 L825.5,111.3 M825.6,117.0 L824.5,125.3 M825.6,117.0 L833.9,116.3 M827.0,118.6 L825.9,127.2 M827.0,118.6 L820.3,120.4 M827.0,118.6 L835.7,117.7 M827.0,118.6 L829.1,111.9 M828.5,120.1 L827.1,131.2 M828.5,120.1 L839.7,119.0 M830.0,121.6 L828.7,131.2 M830.0,121.6 L822.5,123.6 M830.0,121.6 L839.6,120.7 M830.0,121.6 L832.3,114.2 M831.4,123.1 L830.0,134.3 M831.4,123.1 L842.6,122.0 M832.9,124.6 L831.6,134.2 M832.9,124.6 L825.4,126.6 M832.9,124.6 L842.5,123.7 M832.9,124.6 L835.2,117.2 M834.3,126.1 L832.9,137.3 M834.3,126.1 L845.6,125.1 M835.8,127.6 L834.6,137.2 M835.8,127.6 L828.3,129.7 M835.8,127.6 L845.4,126.7 M835.8,127.6 L838.1,120.2 M837.3,129.1 L835.9,139.8 M837.3,129.1 L847.9,128.1 M838.7,130.6 L837.6,139.1 M838.7,130.6 L832.1,132.4 M838.7,130.6 L847.2,129.8 M838.7,130.6 L840.7,124.1 M840.2,132.2 L839.0,141.2 M840.2,132.2 L849.3,131.3 M841.6,133.7 L840.7,140.8 M841.6,133.7 L836.1,135.2 M841.6,133.7 L848.8,133.0 M841.6,133.7 L843.3,128.2 M843.1,135.2 L842.1,142.6 M843.1,135.2 L850.6,134.5 M842.5,134.6 L848.3,132.9 M842.5,134.6 L849.5,134.7 M842.5,134.6 L850.2,136.8 M842.5,134.6 L849.8,139.0 M842.5,134.6 L848.1,140.4 M842.5,134.6 L846.7,142.0 M842.5,134.6 L844.5,142.4 M842.5,134.6 L842.4,141.6 M842.5,134.6 L840.7,140.3 M821.0,112.3 L811.3,147.0 M819.8,116.6 L814.6,118.8 M819.8,116.6 L816.6,113.5 M819.8,116.6 L823.0,121.2 M819.8,116.6 L824.2,115.6 M819.2,118.7 L811.6,121.9 M819.2,118.7 L824.1,125.4 M818.6,120.7 L810.6,124.1 M818.6,120.7 L813.7,115.8 M818.6,120.7 L823.7,127.8 M818.6,120.7 L825.5,119.1 M818.1,122.7 L807.7,127.1 M818.1,122.7 L824.6,131.9 M817.5,124.7 L808.6,128.5 M817.5,124.7 L812.0,119.3 M817.5,124.7 L823.2,132.6 M817.5,124.7 L825.1,123.0 M816.9,126.7 L806.6,131.1 M816.9,126.7 L823.5,135.9 M816.4,128.8 L807.4,132.5 M816.4,128.8 L810.8,123.3 M816.4,128.8 L822.0,136.6 M816.4,128.8 L823.9,127.0 M815.8,130.8 L805.4,135.2 M815.8,130.8 L822.4,139.9 M815.2,132.8 L806.3,136.6 M815.2,132.8 L809.7,127.4 M815.2,132.8 L820.9,140.7 M815.2,132.8 L822.8,131.0 M814.7,134.8 L804.8,139.0 M814.7,134.8 L820.9,143.5 M814.1,136.8 L806.2,140.2 M814.1,136.8 L809.2,132.0 M814.1,136.8 L819.1,143.8 M814.1,136.8 L820.8,135.3 M813.5,138.9 L805.1,142.4 M813.5,138.9 L818.8,146.3 M813.0,140.9 L806.4,143.7 M813.0,140.9 L808.9,136.9 M813.0,140.9 L817.1,146.7 M813.0,140.9 L818.6,139.6 M812.4,142.9 L805.5,145.8 M812.4,142.9 L816.8,149.0 M812.6,142.1 L816.9,146.3 M812.6,142.1 L816.0,148.2 M812.6,142.1 L814.6,149.9 M812.6,142.1 L812.5,150.6 M812.6,142.1 L810.4,149.8 M812.6,142.1 L808.3,149.5 M812.6,142.1 L806.9,147.7 M812.6,142.1 L806.5,145.6 M812.6,142.1 L806.7,143.4 M821.0,112.3 L785.5,118.3 M816.6,113.1 L812.4,109.3 M816.6,113.1 L818.0,108.8 M816.6,113.1 L813.8,117.9 M816.6,113.1 L819.3,116.6 M814.5,113.4 L808.3,107.9 M814.5,113.4 L810.5,120.7 M812.4,113.8 L805.9,107.9 M812.4,113.8 L814.7,107.1 M812.4,113.8 L808.2,121.4 M812.4,113.8 L816.8,119.2 M810.4,114.1 L801.9,106.6 M810.4,114.1 L804.9,124.0 M808.3,114.5 L801.0,108.0 M808.3,114.5 L810.8,107.1 M808.3,114.5 L803.6,122.9 M808.3,114.5 L813.1,120.5 M806.2,114.8 L797.8,107.3 M806.2,114.8 L800.7,124.7 M804.1,115.2 L796.9,108.7 M804.1,115.2 L806.7,107.8 M804.1,115.2 L799.4,123.6 M804.1,115.2 L809.0,121.2 M802.1,115.5 L793.7,108.0 M802.1,115.5 L796.6,125.4 M800.0,115.9 L792.8,109.4 M800.0,115.9 L802.6,108.5 M800.0,115.9 L795.3,124.3 M800.0,115.9 L804.8,121.9 M797.9,116.2 L789.9,109.1 M797.9,116.2 L792.7,125.6 M795.9,116.6 L789.5,110.9 M795.9,116.6 L798.1,110.1 M795.9,116.6 L791.7,124.0 M795.9,116.6 L800.1,121.9 M793.8,116.9 L787.0,110.8 M793.8,116.9 L789.4,124.9 M791.7,117.3 L786.4,112.5 M791.7,117.3 L793.6,111.8 M791.7,117.3 L788.2,123.5 M791.7,117.3 L795.3,121.7 M789.6,117.6 L784.0,112.6 M789.6,117.6 L786.0,124.2 M790.4,117.5 L788.5,123.2 M790.4,117.5 L786.4,123.2 M790.4,117.5 L784.3,122.6 M790.4,117.5 L782.7,121.0 M790.4,117.5 L782.5,118.8 M790.4,117.5 L782.0,116.7 M790.4,117.5 L782.9,114.7 M790.4,117.5 L784.7,113.4 M790.4,117.5 L786.8,112.7 M821.0,112.3 L795.3,87.1 M817.8,109.2 L818.3,103.6 M817.8,109.2 L822.1,107.9 M817.8,109.2 L812.2,109.8 M817.8,109.2 L816.6,113.5 M816.3,107.7 L817.1,99.4 M816.3,107.7 L808.0,108.7 M814.8,106.2 L815.7,97.5 M814.8,106.2 L821.5,104.2 M814.8,106.2 L806.1,107.3 M814.8,106.2 L812.9,113.0 M813.3,104.7 L814.4,93.5 M813.3,104.7 L802.1,106.1 M811.8,103.3 L812.8,93.6 M811.8,103.3 L819.2,101.0 M811.8,103.3 L802.2,104.4 M811.8,103.3 L809.7,110.8 M810.3,101.8 L811.4,90.6 M810.3,101.8 L799.1,103.2 M808.8,100.3 L809.8,90.7 M808.8,100.3 L816.2,98.1 M808.8,100.3 L799.2,101.5 M808.8,100.3 L806.7,107.8 M807.3,98.9 L808.4,87.7 M807.3,98.9 L796.1,100.2 M805.8,97.4 L806.8,87.8 M805.8,97.4 L813.2,95.2 M805.8,97.4 L796.2,98.6 M805.8,97.4 L803.7,104.9 M804.3,95.9 L805.4,85.2 M804.3,95.9 L793.6,97.2 M802.8,94.5 L803.6,86.0 M802.8,94.5 L809.3,92.5 M802.8,94.5 L794.3,95.5 M802.8,94.5 L800.9,101.1 M801.3,93.0 L802.2,83.9 M801.3,93.0 L792.2,94.1 M799.8,91.5 L800.5,84.4 M799.8,91.5 L805.3,89.9 M799.8,91.5 L792.7,92.4 M799.8,91.5 L798.2,97.0 M798.3,90.1 L799.0,82.6 M798.3,90.1 L790.8,91.0 M798.9,90.6 L793.1,92.4 M798.9,90.6 L791.9,90.7 M798.9,90.6 L791.1,88.6 M798.9,90.6 L791.4,86.4 M798.9,90.6 L793.1,85.0 M798.9,90.6 L794.5,83.3 M798.9,90.6 L796.7,82.9 M798.9,90.6 L798.8,83.6 M798.9,90.6 L800.5,84.9 M824.0,101.7 L831.9,110.6 M831.9,110.6 L828.6,120.2 M828.6,120.2 L818.0,122.9 M818.0,122.9 L810.2,114.1 M810.2,114.1 L813.1,104.6 M813.1,104.6 L824.0,101.7 " class="pm"/>
<path d="M871.2,185.5 L881.1,150.9 M872.4,181.2 L877.6,179.0 M872.4,181.2 L875.6,184.3 M872.4,181.2 L869.2,176.6 M872.4,181.2 L868.1,182.2 M873.0,179.2 L880.7,175.9 M873.0,179.2 L868.2,172.4 M873.6,177.1 L881.6,173.8 M873.6,177.1 L878.6,182.1 M873.6,177.1 L868.6,170.0 M873.6,177.1 L866.8,178.7 M874.2,175.1 L884.6,170.8 M874.2,175.1 L867.7,165.9 M874.8,173.1 L883.7,169.4 M874.8,173.1 L880.3,178.6 M874.8,173.1 L869.1,165.2 M874.8,173.1 L867.2,174.8 M875.3,171.1 L885.7,166.7 M875.3,171.1 L868.8,161.9 M875.9,169.1 L884.9,165.3 M875.9,169.1 L881.4,174.5 M875.9,169.1 L870.3,161.2 M875.9,169.1 L868.3,170.8 M876.5,167.0 L886.9,162.7 M876.5,167.0 L870.0,157.9 M877.1,165.0 L886.0,161.3 M877.1,165.0 L882.6,170.5 M877.1,165.0 L871.5,157.1 M877.1,165.0 L869.5,166.7 M877.6,163.0 L887.6,158.9 M877.6,163.0 L871.4,154.3 M878.2,161.0 L886.1,157.7 M878.2,161.0 L883.1,165.8 M878.2,161.0 L873.3,154.0 M878.2,161.0 L871.6,162.5 M878.8,159.0 L887.2,155.5 M878.8,159.0 L873.5,151.5 M879.4,157.0 L886.0,154.2 M879.4,157.0 L883.5,161.0 M879.4,157.0 L875.2,151.1 M879.4,157.0 L873.8,158.2 M880.0,154.9 L886.9,152.0 M880.0,154.9 L875.6,148.8 M879.7,155.7 L875.4,151.5 M879.7,155.7 L876.4,149.6 M879.7,155.7 L877.8,147.9 M879.7,155.7 L879.9,147.2 M879.7,155.7 L881.9,148.0 M879.7,155.7 L884.1,148.4 M879.7,155.7 L885.5,150.1 M879.7,155.7 L885.9,152.3 M879.7,155.7 L885.6,154.5 M871.2,185.5 L906.8,180.1 M875.6,184.8 L879.8,188.6 M875.6,184.8 L874.1,189.0 M875.6,184.8 L878.4,180.0 M875.6,184.8 L872.9,181.3 M877.7,184.5 L883.8,190.1 M877.7,184.5 L881.9,177.3 M879.8,184.2 L886.2,190.1 M879.8,184.2 L877.4,190.8 M879.8,184.2 L884.2,176.6 M879.8,184.2 L875.5,178.6 M881.9,183.9 L890.2,191.5 M881.9,183.9 L887.5,174.1 M884.0,183.5 L891.1,190.1 M884.0,183.5 L881.3,190.8 M884.0,183.5 L888.8,175.2 M884.0,183.5 L879.2,177.4 M886.0,183.2 L894.3,190.9 M886.0,183.2 L891.7,173.5 M888.1,182.9 L895.2,189.5 M888.1,182.9 L885.4,190.2 M888.1,182.9 L892.9,174.5 M888.1,182.9 L883.4,176.7 M890.2,182.6 L898.5,190.2 M890.2,182.6 L895.8,172.8 M892.3,182.3 L899.4,188.8 M892.3,182.3 L889.6,189.6 M892.3,182.3 L897.1,173.9 M892.3,182.3 L887.5,176.1 M894.3,182.0 L902.2,189.2 M894.3,182.0 L899.7,172.7 M896.4,181.6 L902.7,187.4 M896.4,181.6 L894.1,188.1 M896.4,181.6 L900.7,174.2 M896.4,181.6 L892.2,176.2 M898.5,181.3 L905.2,187.5 M898.5,181.3 L903.0,173.4 M900.6,181.0 L905.8,185.9 M900.6,181.0 L898.6,186.4 M900.6,181.0 L904.1,174.8 M900.6,181.0 L897.1,176.5 M902.6,180.7 L908.2,185.8 M902.6,180.7 L906.4,174.2 M901.8,180.8 L903.8,175.1 M901.8,180.8 L906.0,175.2 M901.8,180.8 L908.1,175.8 M901.8,180.8 L909.6,177.4 M901.8,180.8 L909.8,179.6 M901.8,180.8 L910.3,181.7 M901.8,180.8 L909.3,183.7 M901.8,180.8 L907.5,185.0 M901.8,180.8 L905.4,185.6 M871.2,185.5 L896.2,211.4 M874.3,188.7 L873.6,194.3 M874.3,188.7 L870.0,189.9 M874.3,188.7 L879.9,188.2 M874.3,188.7 L875.7,184.5 M875.8,190.2 L874.7,198.5 M875.8,190.2 L884.1,189.5 M877.2,191.8 L876.1,200.4 M877.2,191.8 L870.5,193.6 M877.2,191.8 L885.9,190.9 M877.2,191.8 L879.3,185.1 M878.7,193.3 L877.3,204.4 M878.7,193.3 L889.9,192.2 M880.2,194.8 L878.9,204.4 M880.2,194.8 L872.7,196.8 M880.2,194.8 L889.8,193.9 M880.2,194.8 L882.5,187.4 M881.6,196.3 L880.2,207.5 M881.6,196.3 L892.8,195.2 M883.1,197.8 L881.8,207.4 M883.1,197.8 L875.6,199.8 M883.1,197.8 L892.7,196.9 M883.1,197.8 L885.4,190.4 M884.5,199.3 L883.1,210.5 M884.5,199.3 L895.8,198.3 M886.0,200.8 L884.8,210.4 M886.0,200.8 L878.5,202.9 M886.0,200.8 L895.6,199.9 M886.0,200.8 L888.3,193.4 M887.5,202.3 L886.1,213.0 M887.5,202.3 L898.1,201.3 M888.9,203.8 L887.8,212.3 M888.9,203.8 L882.3,205.6 M888.9,203.8 L897.4,203.0 M888.9,203.8 L890.9,197.3 M890.4,205.4 L889.2,214.4 M890.4,205.4 L899.5,204.5 M891.8,206.9 L890.9,214.0 M891.8,206.9 L886.3,208.4 M891.8,206.9 L899.0,206.2 M891.8,206.9 L893.5,201.4 M893.3,208.4 L892.3,215.8 M893.3,208.4 L900.8,207.7 M892.7,207.8 L898.5,206.1 M892.7,207.8 L899.7,207.9 M892.7,207.8 L900.4,210.0 M892.7,207.8 L900.0,212.2 M892.7,207.8 L898.3,213.6 M892.7,207.8 L896.9,215.2 M892.7,207.8 L894.7,215.6 M892.7,207.8 L892.6,214.8 M892.7,207.8 L890.9,213.5 M871.2,185.5 L861.5,220.2 M870.0,189.8 L864.8,192.0 M870.0,189.8 L866.8,186.7 M870.0,189.8 L873.2,194.4 M870.0,189.8 L874.4,188.8 M869.4,191.9 L861.8,195.1 M869.4,191.9 L874.3,198.6 M868.8,193.9 L860.8,197.3 M868.8,193.9 L863.9,189.0 M868.8,193.9 L873.9,201.0 M868.8,193.9 L875.7,192.3 M868.3,195.9 L857.9,200.3 M868.3,195.9 L874.8,205.1 M867.7,197.9 L858.8,201.7 M867.7,197.9 L862.2,192.5 M867.7,197.9 L873.4,205.8 M867.7,197.9 L875.3,196.2 M867.1,199.9 L856.8,204.3 M867.1,199.9 L873.7,209.1 M866.6,202.0 L857.6,205.7 M866.6,202.0 L861.0,196.5 M866.6,202.0 L872.2,209.8 M866.6,202.0 L874.1,200.2 M866.0,204.0 L855.6,208.4 M866.0,204.0 L872.6,213.1 M865.4,206.0 L856.5,209.8 M865.4,206.0 L859.9,200.6 M865.4,206.0 L871.1,213.9 M865.4,206.0 L873.0,204.2 M864.9,208.0 L855.0,212.2 M864.9,208.0 L871.1,216.7 M864.3,210.0 L856.4,213.4 M864.3,210.0 L859.4,205.2 M864.3,210.0 L869.3,217.0 M864.3,210.0 L871.0,208.5 M863.7,212.1 L855.3,215.6 M863.7,212.1 L869.0,219.5 M863.2,214.1 L856.6,216.9 M863.2,214.1 L859.1,210.1 M863.2,214.1 L867.3,219.9 M863.2,214.1 L868.8,212.8 M862.6,216.1 L855.7,219.0 M862.6,216.1 L867.0,222.2 M862.8,215.3 L867.1,219.5 M862.8,215.3 L866.2,221.4 M862.8,215.3 L864.8,223.1 M862.8,215.3 L862.7,223.8 M862.8,215.3 L860.6,223.0 M862.8,215.3 L858.5,222.7 M862.8,215.3 L857.1,220.9 M862.8,215.3 L856.7,218.8 M862.8,215.3 L856.9,216.6 M871.2,185.5 L835.7,191.5 M866.8,186.3 L862.6,182.5 M866.8,186.3 L868.2,182.0 M866.8,186.3 L864.0,191.1 M866.8,186.3 L869.5,189.8 M864.7,186.6 L858.5,181.1 M864.7,186.6 L860.7,193.9 M862.6,187.0 L856.1,181.1 M862.6,187.0 L864.9,180.3 M862.6,187.0 L858.4,194.6 M862.6,187.0 L867.0,192.4 M860.6,187.3 L852.1,179.8 M860.6,187.3 L855.1,197.2 M858.5,187.7 L851.2,181.2 M858.5,187.7 L861.0,180.3 M858.5,187.7 L853.8,196.1 M858.5,187.7 L863.3,193.7 M856.4,188.0 L848.0,180.5 M856.4,188.0 L850.9,197.9 M854.3,188.4 L847.1,181.9 M854.3,188.4 L856.9,181.0 M854.3,188.4 L849.6,196.8 M854.3,188.4 L859.2,194.4 M852.3,188.7 L843.9,181.2 M852.3,188.7 L846.8,198.6 M850.2,189.1 L843.0,182.6 M850.2,189.1 L852.8,181.7 M850.2,189.1 L845.5,197.5 M850.2,189.1 L855.0,195.1 M848.1,189.4 L840.1,182.3 M848.1,189.4 L842.9,198.8 M846.1,189.8 L839.7,184.1 M846.1,189.8 L848.3,183.3 M846.1,189.8 L841.9,197.2 M846.1,189.8 L850.3,195.1 M844.0,190.1 L837.2,184.0 M844.0,190.1 L839.6,198.1 M841.9,190.5 L836.6,185.7 M841.9,190.5 L843.8,185.0 M841.9,190.5 L838.4,196.7 M841.9,190.5 L845.5,194.9 M839.8,190.8 L834.2,185.8 M839.8,190.8 L836.2,197.4 M840.6,190.7 L838.7,196.4 M840.6,190.7 L836.6,196.4 M840.6,190.7 L834.5,195.8 M840.6,190.7 L832.9,194.2 M840.6,190.7 L832.7,192.0 M840.6,190.7 L832.2,189.9 M840.6,190.7 L833.1,187.9 M840.6,190.7 L834.9,186.6 M840.6,190.7 L837.0,185.9 M871.2,185.5 L845.5,160.3 M868.0,182.4 L868.5,176.8 M868.0,182.4 L872.3,181.1 M868.0,182.4 L862.4,183.0 M868.0,182.4 L866.8,186.7 M866.5,180.9 L867.3,172.6 M866.5,180.9 L858.2,181.9 M865.0,179.4 L865.9,170.7 M865.0,179.4 L871.7,177.4 M865.0,179.4 L856.3,180.5 M865.0,179.4 L863.1,186.2 M863.5,177.9 L864.6,166.7 M863.5,177.9 L852.3,179.3 M862.0,176.5 L863.0,166.8 M862.0,176.5 L869.4,174.2 M862.0,176.5 L852.4,177.6 M862.0,176.5 L859.9,184.0 M860.5,175.0 L861.6,163.8 M860.5,175.0 L849.3,176.4 M859.0,173.5 L860.0,163.9 M859.0,173.5 L866.4,171.3 M859.0,173.5 L849.4,174.7 M859.0,173.5 L856.9,181.0 M857.5,172.1 L858.6,160.9 M857.5,172.1 L846.3,173.4 M856.0,170.6 L857.0,161.0 M856.0,170.6 L863.4,168.4 M856.0,170.6 L846.4,171.8 M856.0,170.6 L853.9,178.1 M854.5,169.1 L855.6,158.4 M854.5,169.1 L843.8,170.4 M853.0,167.7 L853.8,159.2 M853.0,167.7 L859.5,165.7 M853.0,167.7 L844.5,168.7 M853.0,167.7 L851.1,174.3 M851.5,166.2 L852.4,157.1 M851.5,166.2 L842.4,167.3 M850.0,164.7 L850.7,157.6 M850.0,164.7 L855.5,163.1 M850.0,164.7 L842.9,165.6 M850.0,164.7 L848.4,170.2 M848.5,163.3 L849.2,155.8 M848.5,163.3 L841.0,164.2 M849.1,163.8 L843.3,165.6 M849.1,163.8 L842.1,163.9 M849.1,163.8 L841.3,161.8 M849.1,163.8 L841.6,159.6 M849.1,163.8 L843.3,158.2 M849.1,163.8 L844.7,156.5 M849.1,163.8 L846.9,156.1 M849.1,163.8 L849.0,156.8 M849.1,163.8 L850.7,158.1 M874.2,174.9 L882.1,183.8 M882.1,183.8 L878.8,193.4 M878.8,193.4 L868.2,196.1 M868.2,196.1 L860.4,187.3 M860.4,187.3 L863.3,177.8 M863.3,177.8 L874.2,174.9 " class="pm"/>
<path d="M793.8,262.4 L803.7,227.8 M795.0,258.1 L800.2,255.9 M795.0,258.1 L798.2,261.2 M795.0,258.1 L791.8,253.5 M795.0,258.1 L790.6,259.1 M795.6,256.1 L803.2,252.8 M795.6,256.1 L790.8,249.3 M796.1,254.0 L804.2,250.7 M796.1,254.0 L801.1,259.0 M796.1,254.0 L791.1,246.9 M796.1,254.0 L789.3,255.6 M796.7,252.0 L807.1,247.7 M796.7,252.0 L790.2,242.8 M797.3,250.0 L806.2,246.3 M797.3,250.0 L802.8,255.5 M797.3,250.0 L791.7,242.1 M797.3,250.0 L789.7,251.7 M797.9,248.0 L808.3,243.6 M797.9,248.0 L791.4,238.8 M798.5,246.0 L807.4,242.2 M798.5,246.0 L804.0,251.4 M798.5,246.0 L792.9,238.1 M798.5,246.0 L790.9,247.7 M799.0,243.9 L809.4,239.6 M799.0,243.9 L792.5,234.8 M799.6,241.9 L808.6,238.2 M799.6,241.9 L805.1,247.4 M799.6,241.9 L794.0,234.0 M799.6,241.9 L792.0,243.6 M800.2,239.9 L810.1,235.8 M800.2,239.9 L794.0,231.2 M800.8,237.9 L808.7,234.6 M800.8,237.9 L805.6,242.7 M800.8,237.9 L795.8,230.9 M800.8,237.9 L794.1,239.4 M801.4,235.9 L809.8,232.4 M801.4,235.9 L796.1,228.4 M801.9,233.9 L808.5,231.1 M801.9,233.9 L806.0,237.9 M801.9,233.9 L797.8,228.0 M801.9,233.9 L796.3,235.1 M802.5,231.8 L809.4,228.9 M802.5,231.8 L798.2,225.7 M802.3,232.6 L798.0,228.4 M802.3,232.6 L798.9,226.5 M802.3,232.6 L800.4,224.8 M802.3,232.6 L802.4,224.1 M802.3,232.6 L804.5,224.9 M802.3,232.6 L806.7,225.3 M802.3,232.6 L808.0,227.0 M802.3,232.6 L808.4,229.2 M802.3,232.6 L808.2,231.4 M793.8,262.4 L829.3,257.0 M798.2,261.7 L802.3,265.5 M798.2,261.7 L796.7,265.9 M798.2,261.7 L801.0,256.9 M798.2,261.7 L795.5,258.2 M800.3,261.4 L806.4,267.0 M800.3,261.4 L804.4,254.2 M802.3,261.1 L808.8,267.0 M802.3,261.1 L799.9,267.7 M802.3,261.1 L806.7,253.5 M802.3,261.1 L798.1,255.5 M804.4,260.8 L812.7,268.4 M804.4,260.8 L810.1,251.0 M806.5,260.4 L813.6,267.0 M806.5,260.4 L803.8,267.7 M806.5,260.4 L811.3,252.1 M806.5,260.4 L801.8,254.3 M808.6,260.1 L816.9,267.8 M808.6,260.1 L814.2,250.4 M810.7,259.8 L817.8,266.4 M810.7,259.8 L808.0,267.1 M810.7,259.8 L815.5,251.4 M810.7,259.8 L805.9,253.6 M812.7,259.5 L821.0,267.1 M812.7,259.5 L818.4,249.7 M814.8,259.2 L821.9,265.7 M814.8,259.2 L812.1,266.5 M814.8,259.2 L819.6,250.8 M814.8,259.2 L810.1,253.0 M816.9,258.9 L824.8,266.1 M816.9,258.9 L822.2,249.6 M819.0,258.5 L825.2,264.3 M819.0,258.5 L816.6,265.0 M819.0,258.5 L823.2,251.1 M819.0,258.5 L814.8,253.1 M821.0,258.2 L827.7,264.4 M821.0,258.2 L825.6,250.3 M823.1,257.9 L828.4,262.8 M823.1,257.9 L821.1,263.3 M823.1,257.9 L826.7,251.7 M823.1,257.9 L819.6,253.4 M825.2,257.6 L830.7,262.7 M825.2,257.6 L828.9,251.1 M824.4,257.7 L826.4,252.0 M824.4,257.7 L828.5,252.1 M824.4,257.7 L830.6,252.7 M824.4,257.7 L832.2,254.3 M824.4,257.7 L832.3,256.5 M824.4,257.7 L832.8,258.6 M824.4,257.7 L831.8,260.6 M824.4,257.7 L830.0,261.9 M824.4,257.7 L828.0,262.5 M793.8,262.4 L818.8,288.3 M796.9,265.6 L796.2,271.2 M796.9,265.6 L792.5,266.8 M796.9,265.6 L802.4,265.1 M796.9,265.6 L798.2,261.4 M798.3,267.1 L797.3,275.4 M798.3,267.1 L806.6,266.4 M799.8,268.7 L798.7,277.3 M799.8,268.7 L793.0,270.5 M799.8,268.7 L808.5,267.8 M799.8,268.7 L801.9,262.0 M801.3,270.2 L799.8,281.3 M801.3,270.2 L812.5,269.1 M802.7,271.7 L801.5,281.3 M802.7,271.7 L795.2,273.7 M802.7,271.7 L812.4,270.8 M802.7,271.7 L805.0,264.3 M804.2,273.2 L802.7,284.4 M804.2,273.2 L815.4,272.1 M805.6,274.7 L804.4,284.3 M805.6,274.7 L798.1,276.7 M805.6,274.7 L815.3,273.8 M805.6,274.7 L807.9,267.3 M807.1,276.2 L805.6,287.4 M807.1,276.2 L818.3,275.2 M808.5,277.7 L807.3,287.3 M808.5,277.7 L801.0,279.8 M808.5,277.7 L818.2,276.8 M808.5,277.7 L810.8,270.3 M810.0,279.2 L808.6,289.9 M810.0,279.2 L820.7,278.2 M811.5,280.7 L810.4,289.2 M811.5,280.7 L804.9,282.5 M811.5,280.7 L820.0,279.9 M811.5,280.7 L813.5,274.2 M812.9,282.3 L811.8,291.3 M812.9,282.3 L822.0,281.4 M814.4,283.8 L813.5,290.9 M814.4,283.8 L808.8,285.3 M814.4,283.8 L821.5,283.1 M814.4,283.8 L816.1,278.3 M815.8,285.3 L814.9,292.7 M815.8,285.3 L823.3,284.6 M815.3,284.7 L821.1,283.0 M815.3,284.7 L822.3,284.8 M815.3,284.7 L823.0,286.9 M815.3,284.7 L822.6,289.1 M815.3,284.7 L820.8,290.5 M815.3,284.7 L819.4,292.1 M815.3,284.7 L817.2,292.5 M815.3,284.7 L815.2,291.7 M815.3,284.7 L813.4,290.4 M793.8,262.4 L784.0,297.1 M792.5,266.7 L787.4,268.9 M792.5,266.7 L789.3,263.6 M792.5,266.7 L795.8,271.3 M792.5,266.7 L796.9,265.7 M792.0,268.8 L784.3,272.0 M792.0,268.8 L796.8,275.5 M791.4,270.8 L783.4,274.2 M791.4,270.8 L786.4,265.9 M791.4,270.8 L796.5,277.9 M791.4,270.8 L798.2,269.2 M790.8,272.8 L780.5,277.2 M790.8,272.8 L797.4,282.0 M790.3,274.8 L781.3,278.6 M790.3,274.8 L784.7,269.4 M790.3,274.8 L795.9,282.7 M790.3,274.8 L797.8,273.1 M789.7,276.8 L779.3,281.2 M789.7,276.8 L796.3,286.0 M789.1,278.9 L780.2,282.6 M789.1,278.9 L783.6,273.4 M789.1,278.9 L794.8,286.7 M789.1,278.9 L796.7,277.1 M788.6,280.9 L778.2,285.3 M788.6,280.9 L795.1,290.0 M788.0,282.9 L779.1,286.7 M788.0,282.9 L782.4,277.5 M788.0,282.9 L793.6,290.8 M788.0,282.9 L795.6,281.1 M787.4,284.9 L777.5,289.1 M787.4,284.9 L793.7,293.6 M786.8,286.9 L779.0,290.3 M786.8,286.9 L782.0,282.1 M786.8,286.9 L791.8,293.9 M786.8,286.9 L793.5,285.4 M786.3,289.0 L777.9,292.5 M786.3,289.0 L791.6,296.4 M785.7,291.0 L779.1,293.8 M785.7,291.0 L781.6,287.0 M785.7,291.0 L789.9,296.8 M785.7,291.0 L791.3,289.7 M785.1,293.0 L778.2,295.9 M785.1,293.0 L789.5,299.1 M785.4,292.2 L789.7,296.4 M785.4,292.2 L788.8,298.3 M785.4,292.2 L787.3,300.0 M785.4,292.2 L785.3,300.7 M785.4,292.2 L783.2,299.9 M785.4,292.2 L781.0,299.6 M785.4,292.2 L779.6,297.8 M785.4,292.2 L779.3,295.7 M785.4,292.2 L779.5,293.5 M793.8,262.4 L758.3,268.4 M789.3,263.2 L785.1,259.4 M789.3,263.2 L790.8,258.9 M789.3,263.2 L786.6,268.0 M789.3,263.2 L792.1,266.7 M787.2,263.5 L781.0,258.0 M787.2,263.5 L783.2,270.8 M785.2,263.9 L778.7,258.0 M785.2,263.9 L787.5,257.2 M785.2,263.9 L780.9,271.5 M785.2,263.9 L789.5,269.3 M783.1,264.2 L774.7,256.7 M783.1,264.2 L777.6,274.1 M781.0,264.6 L773.8,258.1 M781.0,264.6 L783.6,257.2 M781.0,264.6 L776.3,273.0 M781.0,264.6 L785.9,270.6 M779.0,264.9 L770.6,257.4 M779.0,264.9 L773.5,274.8 M776.9,265.3 L769.7,258.8 M776.9,265.3 L779.4,257.9 M776.9,265.3 L772.2,273.7 M776.9,265.3 L781.7,271.3 M774.8,265.6 L766.4,258.1 M774.8,265.6 L769.3,275.5 M772.7,266.0 L765.5,259.5 M772.7,266.0 L775.3,258.6 M772.7,266.0 L768.0,274.4 M772.7,266.0 L777.6,272.0 M770.7,266.3 L762.7,259.2 M770.7,266.3 L765.5,275.7 M768.6,266.7 L762.2,261.0 M768.6,266.7 L770.9,260.2 M768.6,266.7 L764.5,274.1 M768.6,266.7 L772.9,272.0 M766.5,267.0 L759.7,260.9 M766.5,267.0 L762.1,275.0 M764.5,267.4 L759.1,262.6 M764.5,267.4 L766.4,261.9 M764.5,267.4 L761.0,273.6 M764.5,267.4 L768.0,271.8 M762.4,267.7 L756.8,262.7 M762.4,267.7 L758.7,274.3 M763.2,267.6 L761.3,273.3 M763.2,267.6 L759.1,273.3 M763.2,267.6 L757.0,272.7 M763.2,267.6 L755.5,271.1 M763.2,267.6 L755.3,268.9 M763.2,267.6 L754.7,266.8 M763.2,267.6 L755.7,264.8 M763.2,267.6 L757.5,263.5 M763.2,267.6 L759.5,262.8 M793.8,262.4 L768.0,237.2 M790.5,259.3 L791.1,253.7 M790.5,259.3 L794.8,258.0 M790.5,259.3 L785.0,259.9 M790.5,259.3 L789.3,263.6 M789.0,257.8 L789.9,249.5 M789.0,257.8 L780.8,258.8 M787.5,256.3 L788.4,247.6 M787.5,256.3 L794.2,254.3 M787.5,256.3 L778.9,257.4 M787.5,256.3 L785.7,263.1 M786.0,254.8 L787.2,243.6 M786.0,254.8 L774.8,256.2 M784.5,253.4 L785.5,243.7 M784.5,253.4 L792.0,251.1 M784.5,253.4 L774.9,254.5 M784.5,253.4 L782.4,260.9 M783.0,251.9 L784.2,240.7 M783.0,251.9 L771.8,253.3 M781.5,250.4 L782.5,240.8 M781.5,250.4 L789.0,248.2 M781.5,250.4 L771.9,251.6 M781.5,250.4 L779.4,257.9 M780.0,249.0 L781.2,237.8 M780.0,249.0 L768.8,250.3 M778.5,247.5 L779.5,237.9 M778.5,247.5 L786.0,245.3 M778.5,247.5 L768.9,248.7 M778.5,247.5 L776.4,255.0 M777.0,246.0 L778.1,235.3 M777.0,246.0 L766.4,247.3 M775.5,244.6 L776.4,236.1 M775.5,244.6 L782.1,242.6 M775.5,244.6 L767.1,245.6 M775.5,244.6 L773.7,251.2 M774.0,243.1 L774.9,234.0 M774.0,243.1 L765.0,244.2 M772.5,241.6 L773.2,234.5 M772.5,241.6 L778.0,240.0 M772.5,241.6 L765.4,242.5 M772.5,241.6 L771.0,247.1 M771.0,240.2 L771.8,232.7 M771.0,240.2 L763.6,241.1 M771.6,240.7 L765.9,242.5 M771.6,240.7 L764.6,240.8 M771.6,240.7 L763.9,238.7 M771.6,240.7 L764.2,236.5 M771.6,240.7 L765.9,235.1 M771.6,240.7 L767.3,233.4 M771.6,240.7 L769.4,233.0 M771.6,240.7 L771.5,233.7 M771.6,240.7 L773.3,235.0 M796.8,251.8 L804.6,260.7 M804.6,260.7 L801.4,270.3 M801.4,270.3 L790.8,273.0 M790.8,273.0 L782.9,264.2 M782.9,264.2 L785.9,254.7 M785.9,254.7 L796.8,251.8 " class="pm"/>
<path d="M248.5,215 V202 H752.5 V320" class="d"/>
<rect x="745.5" y="202.5" width="7" height="7" class="bk"/>
<rect x="745.5" y="257.5" width="7" height="7" class="bk"/>
<path d="M249,553.75 V215.5 H380.5 V225 H375.5 V220.5 H253.5 V528" class="w"/>
<line x1="260" y1="218" x2="332" y2="218" class="th"/>
<line x1="260" y1="215.5" x2="260" y2="220.5" class="b"/>
<line x1="283.5" y1="215.5" x2="283.5" y2="220.5" class="b"/>
<line x1="307" y1="215.5" x2="307" y2="220.5" class="b"/>
<line x1="332" y1="215.5" x2="332" y2="220.5" class="b"/>
<rect x="249" y="238.75" width="4.5" height="16.25" class="g"/>
<rect x="249" y="331.25" width="4.5" height="17.5" class="g"/>
<rect x="249" y="442.5" width="4.5" height="35" class="g"/>
<path d="M339.5,220.5 V263 H345.5 M342.5,220.5 V260.5 H345.5 V263" class="w"/>
<line x1="345.5" y1="262" x2="361.25" y2="262" class="k"/>
<line x1="357" y1="218" x2="374.5" y2="218" class="th"/>
<line x1="357" y1="215.5" x2="357" y2="220.5" class="b"/>
<line x1="374.5" y1="215.5" x2="374.5" y2="220.5" class="b"/>
<line x1="380.5" y1="225" x2="380.5" y2="240" class="th"/>
<line x1="380" y1="240.7" x2="396.25" y2="240.7" class="k"/>
<path d="M380.5,225 A15.5,15.5 0 0 1 396,240.5" class="th"/>
<path d="M375.5,240.7 V260.5 H373 V263 H392 V258.6 H380.5 V240.7 Z" class="w"/>
<rect x="392" y="258.7" width="21" height="2.5" class="g"/>
<line x1="413" y1="259.6" x2="433.4" y2="259.6" class="k"/>
<path d="M439.9,263.1 L433.4,263.1 L433.4,258.5 L438.3,243.5 L451.2,233.8 L464.6,228.4 L478.5,228.4 L493,233.8 L505.4,243.5 L509.2,258.5" class="w"/>
<path d="M439.9,263.1 L443.1,246.2 L452.8,237 L464.6,233.3 L478.5,233.3 L491.4,237 L501.1,246.2 L504.3,258.5" class="w"/>
<rect x="504.3" y="258.5" width="8.6" height="4.6" class="w"/>
<path d="M439.88,244.39 L451.73,234.86 L464.6,230.02 L478.5,230.02 L492.47,234.86 L503.98,244.39" class="th"/>
<path d="M441.47,245.28 L452.26,235.91 L464.6,231.63 L478.5,231.63 L491.94,235.91 L502.56,245.28" class="th"/>
<line x1="438.3" y1="243.5" x2="443.1" y2="246.2" class="w"/>
<line x1="451.2" y1="233.8" x2="452.8" y2="237" class="w"/>
<line x1="464.6" y1="228.4" x2="464.6" y2="233.3" class="w"/>
<line x1="478.5" y1="228.4" x2="478.5" y2="233.3" class="w"/>
<line x1="493" y1="233.8" x2="491.4" y2="237" class="w"/>
<line x1="505.4" y1="243.5" x2="501.1" y2="246.2" class="w"/>
<rect x="513.75" y="258.7" width="17.5" height="2.8" class="g"/>
<rect x="550.6" y="258.7" width="16.65" height="2.8" class="g"/>
<line x1="531.25" y1="259.8" x2="550.6" y2="259.8" class="k"/>
<path d="M567.25,258.25 L577.5,258.25 L589.5,270.5 L586.1,273.9 L575.5,263.25 L567.25,263.25 Z" class="w"/>
<line x1="589.5" y1="270.5" x2="628.5" y2="309.5" class="th"/>
<line x1="588.2" y1="273.8" x2="626.4" y2="312" class="k"/>
<line x1="605.6" y1="293.3" x2="607.6" y2="291.3" class="k"/>
<path d="M628.5,309.5 L625.1,312.9" class="w"/>
<path d="M625.1,312.9 L637.25,325 L647.25,325 L647.25,320.4 L639.1,320.4 L628.5,309.5" class="w"/>
<rect x="647.25" y="320.6" width="23.15" height="2.6" class="g"/>
<rect x="718.75" y="320.6" width="23.75" height="2.6" class="g"/>
<line x1="670.4" y1="321.7" x2="718.75" y2="321.7" class="k"/>
<path d="M742.5,319.5 H752.5 V609.5 H626.3 V471.6 M742.5,319.5 V325 H748 V605.5 H630.7 V467.1" class="w"/>
<rect x="748" y="366.9" width="4.5" height="21.2" class="gl"/>
<line x1="750.2" y1="366.9" x2="750.2" y2="388.1" class="th"/>
<rect x="748" y="484.6" width="4.5" height="17.9" class="gl"/>
<line x1="750.2" y1="484.6" x2="750.2" y2="502.5" class="th"/>
<path d="M637.5,325 V420.3 L641,423.5 M640.5,325 V419.5" class="w"/>
<line x1="641.25" y1="422.5" x2="654.25" y2="411.25" class="k"/>
<path d="M654.25,411.25 A17.4,17.4 0 0 1 655,433.75" class="th"/>
<path d="M652.2,435 H666.25 M657.9,437.5 H666.25" class="w"/>
<path d="M700,435 H708.75 M700,437.5 H708.75" class="w"/>
<path d="M742.5,435 H748 M742.5,437.5 H748" class="w"/>
<path d="M666.25,436 L671.25,428.5 L676.25,436" class="b"/>
<path d="M688.75,436 L694.38,428.5 L700,436" class="b"/>
<path d="M708.75,436 L713.75,428.5 L718.75,436" class="b"/>
<path d="M732.5,436 L737.5,428.5 L742.5,436" class="b"/>
<line x1="668.75" y1="445" x2="748" y2="445" class="d"/>
<path d="M652.2,434.9 L671.8,454.5 L671.8,457.2" class="w"/>
<path d="M657.9,437.5 L672.4,452" class="w"/>
<line x1="672" y1="452" x2="748" y2="452" class="w"/>
<line x1="672.5" y1="454.5" x2="748" y2="454.5" class="w"/>
<path d="M686.25,454.5 V472.5 H671.25 M688.75,454.5 V475 H671.25 V472.5" class="w"/>
<line x1="680" y1="454.5" x2="680" y2="472.5" class="d"/>
<path d="M672.5,458.75 L666.25,462 L672.5,465" class="b"/>
<line x1="689.25" y1="465" x2="689.25" y2="480" class="k"/>
<path d="M691.25,468.75 L696.25,476.25 L701.25,468.75" class="b"/>
<path d="M720,454.5 V470 L730,479.5 M730,477.5 H748 M728,481.25 H748" class="w"/>
<line x1="720" y1="455" x2="720" y2="470" class="k"/>
<line x1="722" y1="456" x2="746" y2="476" class="th"/>
<line x1="746" y1="456" x2="724" y2="474" class="th"/>
<path d="M722,456 H746 V476 H731 L722,468.5 Z" class="th"/>
<path d="M671.25,493.75 H690 V513.75 M671.25,496.25 H687.5 V513.75 M671.25,493.75 V496.25" class="w"/>
<line x1="680" y1="496.25" x2="680" y2="513.75" class="d"/>
<path d="M672.5,503.75 L666.25,507 L672.5,510" class="b"/>
<rect x="690" y="500.5" width="25" height="13.25" class="th"/>
<path d="M725.5,513.75 V495 H728.75 V513.75" class="w"/>
<path d="M651.25,513.75 H748 M651.25,516.25 H748 M651.25,513.75 V516.25" class="w"/>
<line x1="632.5" y1="515" x2="632.5" y2="532.5" class="k3"/>
<path d="M634,532.5 A17.5,17.5 0 0 0 651.25,515" class="th"/>
<path d="M630.7,541.6 H645.3 M630.7,544.2 H645.3 V541.6" class="w"/>
<line x1="636.25" y1="544.25" x2="636.25" y2="605.5" class="d"/>
<path d="M645,545 L651.25,550 L645,555" class="b"/>
<path d="M645,566.25 L651.25,570.5 L645,574.5 L651.25,578.5 L645,582.5" class="b"/>
<path d="M645,595 L651.25,599 L645,603.75" class="b"/>
<line x1="645" y1="603.75" x2="645" y2="605.5" class="w"/>
<rect x="674.5" y="605.5" width="41.75" height="4" class="g"/>
<line x1="695" y1="605.5" x2="695" y2="609.5" class="b"/>
<path d="M626.3,471.6 H592.5 M630.7,467.1 H592.5" class="w"/>
<rect x="581.2" y="467.3" width="11.5" height="3.5" class="g"/>
<rect x="525.2" y="467.3" width="12.6" height="3.5" class="g"/>
<line x1="539" y1="467.5" x2="539" y2="492" class="k"/>
<line x1="580" y1="467.5" x2="580" y2="492" class="k"/>
<line x1="539" y1="471.3" x2="580" y2="471.3" class="th"/>
<path d="M539.5,492 Q553,489 558.75,472" class="th"/>
<path d="M579.5,492 Q566,489 560.5,472" class="th"/>
<path d="M520.5,426.25 V533 M523.25,426.25 V467.5 H527 M520.5,426.25 H523.25 M524.5,470.75 H527 M524.5,470.75 V533" class="w"/>
<path d="M525,533 V553.25 H602.7" class="d"/>
<line x1="602.7" y1="471.6" x2="602.7" y2="553.25" class="d"/>
<rect x="525" y="546.25" width="7" height="7" class="th"/>
<rect x="596" y="547" width="6.5" height="6.25" class="th"/>
<path d="M378.75,532.75 H524.5 M398,528.75 H520.5" class="w"/>
<rect x="457" y="528.75" width="46.75" height="4" class="g"/>
<line x1="481.25" y1="528.75" x2="481.25" y2="532.75" class="b"/>
<path d="M596.25,437.5 V426.25 H612 L631.25,446 V453.75 M598.75,437.5 V428.75 H611 L628.75,447 V453.75 M596.25,437.5 H598.75" class="w"/>
<path d="M596.25,467.5 V455.7 H598.75 V467.5" class="w"/>
<line x1="605" y1="428.75" x2="605" y2="467.5" class="d"/>
<path d="M612,428.75 V467.5 M614.5,431.5 V467.5" class="w"/>
<path d="M597.5,446.25 L590,450 L597.5,456.25" class="b"/>
<path d="M614.5,440.5 H623.75 V448.75 H614.5 M614.5,440.5 L623.75,448.75" class="th"/>
<line x1="620" y1="448.75" x2="620" y2="467.5" class="d"/>
<path d="M630,453.75 L636.25,457.5 L630,461" class="b"/>
<path d="M435.5,427 V528.75 M438.25,427 V528.75 M435.5,427 H438.25" class="w"/>
<path d="M378.5,427 H396 V432.5 H393.5 V436 M378.5,429 H393.5 M378.5,451 H392.5 V447 H395" class="w"/>
<line x1="385" y1="429" x2="385" y2="451" class="d"/>
<path d="M392.5,437 L398,441.5 L392.5,446" class="b"/>
<path d="M396,429 Q398,445 414,446.5" class="th"/>
<line x1="414.6" y1="427.5" x2="414.6" y2="446.7" class="k"/>
<path d="M414,427.5 V446.7 H435.5 M416.7,427.5 V443.3 H435.5 M414,427.5 H419.5" class="w"/>
<line x1="416.7" y1="435.8" x2="435.5" y2="435.8" class="d"/>
<path d="M419.5,429 L420.8,426.7 L425.8,420.8 L429.4,427.5" class="b"/>
<line x1="398" y1="511.25" x2="398" y2="532.5" class="k"/>
<path d="M398,511.25 Q384,513 381,528" class="th"/>
<path d="M376,428 V528 M378.5,427 V528" class="w"/>
<path d="M294.4,388.75 V378.75 H290.6 V376.25 H328.1 L378.5,427 M294.4,388.75 H296.9 V379 H326.9 L376,428.5" class="w"/>
<path d="M296.9,423.75 V435.2 L342.6,481.25 H376 M294.4,423.75 V435.6 H291.25 V438.1 H295.4 L340.3,483 Q340.6,485 342,484.6 Q343,484.4 342.6,483.5 H376 M294.4,423.75 H296.9" class="w"/>
<path d="M295.6,388.75 L287.5,394.4 L295,399.4" class="b"/>
<path d="M295,413.75 L287.5,418.1 L295.6,423.75" class="b"/>
<line x1="348.1" y1="401.9" x2="331.25" y2="418.75" class="d"/>
<line x1="356.9" y1="408.75" x2="339.5" y2="426.5" class="d"/>
<line x1="331.25" y1="418.75" x2="339.5" y2="426.5" class="w"/>
<line x1="333.1" y1="417" x2="341.2" y2="424.7" class="th"/>
<line x1="365" y1="408.75" x2="356.9" y2="400" class="k"/>
<path d="M356.9,400 A11.7,11.7 0 0 1 371.8,400.3" class="th"/>
<path d="M370.6,386.25 A12.4,12.4 0 0 0 371.8,400.3" class="th"/>
<path d="M375.5,263 V383.75 L381.75,393 H441 V375.5 M377.5,263 V383 L383,391.25 H438.5 V375.5 H441" class="w"/>
<path d="M392.25,263 V368 Q392.25,376.25 400,376.25 H418.5" class="w"/>
<path d="M385,263 V374 Q385,383.75 394,383.75 H418.5" class="d"/>
<rect x="418.5" y="376.25" width="20" height="15" class="th"/>
<line x1="370.6" y1="386.25" x2="379.6" y2="394.4" class="k"/>
<rect x="377.75" y="287.5" width="13.75" height="15" class="th"/>
<circle cx="381.3" cy="291.5" r="2" class="th"/>
<circle cx="381.3" cy="298.5" r="2" class="th"/>
<circle cx="388" cy="291.5" r="2" class="th"/>
<circle cx="388" cy="298.5" r="2" class="th"/>
<rect x="424.5" y="311.25" width="14" height="26.75" class="th"/>
<path d="M458.4,356.75 V310.6 H472 M472,308.4 V356.75 M475.6,308.4 V356.75" class="w"/>
<line x1="466" y1="310.75" x2="466" y2="356.75" class="d"/>
<path d="M472,308.4 Q495,308.6 505.6,296 M475.6,310.6 Q497,310.4 507.2,297 M505.6,296 L507.2,297" class="w"/>
<line x1="459" y1="356.75" x2="472" y2="356.75" class="k"/>
<line x1="459" y1="373.7" x2="472" y2="373.7" class="k"/>
<path d="M472,356.75 V390.2 H457 M475.6,356.75 V393 H457 V390.2" class="w"/>
<line x1="466" y1="356.75" x2="466" y2="391.25" class="d"/>
<path d="M459,358 Q450,358 453,362 Q458,365.5 453,368.5 Q450,372.5 459,372.5" class="th"/>
<path d="M459,375 Q450,375 453,379 Q458,382.5 453,385.5 Q450,389.5 457,389.5" class="th"/>
<path d="M253.5,528 H376 M249,532.5 H378.5 V528" class="w"/>
<line x1="253.75" y1="540" x2="375" y2="540" class="d"/>
<path d="M375,532.5 V548.75 H378.75 V532.5" class="w"/>
<line x1="253.75" y1="532.5" x2="253.75" y2="548.75" class="w"/>
<path d="M253.75,548.75 L258.75,555 L263.75,548.75" class="b"/>
<path d="M275,548.75 L280,555 L284.5,548.75 L289,555 L294,548.75" class="b"/>
<path d="M305,548.75 L310,555 L314.5,548.75 L319,555 L324,548.75" class="b"/>
<path d="M335.5,548.75 L340.5,555 L345,548.75 L349.5,555 L354.5,548.75" class="b"/>
<path d="M366.25,548.75 L370.5,555 L375,548.75" class="b"/>
<path d="M248.75,571.25 V688 H409.25 V671.25 M409.25,562.5 V532.75 M248.75,571.25 H253.75 V683.75 H404.5 V671.25 M404.5,562.5 V532.75" class="w"/>
<line x1="408.75" y1="562.5" x2="408.75" y2="671.25" class="lt"/>
<line x1="250.3" y1="553.75" x2="250.3" y2="571.25" class="th"/>
<line x1="231.25" y1="553.75" x2="249" y2="553.75" class="k"/>
<path d="M231.25,553.75 A17.5,17.5 0 0 0 248.75,571.25" class="th"/>
<rect x="248.75" y="608.75" width="5" height="20.5" class="g"/>
<rect x="303.25" y="683.75" width="20.5" height="4.25" class="g"/>
<rect x="330.75" y="683.75" width="20.5" height="4.25" class="g"/>
<line x1="404" y1="562.5" x2="404" y2="671.25" class="k"/>
<path d="M403,562.5 H409.25 M403,671.25 H409.25" class="w"/>
<rect x="342.5" y="220.5" width="13.5" height="16.9" class="th"/>
<circle cx="348.75" cy="228.6" r="4.6" class="w"/>
<circle cx="348.75" cy="228.6" r="3.4" class="th"/>
<rect x="342" y="244.5" width="3" height="10" class="th"/>
<path d="M345,244.0 C351,242.5 359,245.5 359,249.5 C359,253.5 351,256.5 345,255.0" class="th"/>
<rect x="253.5" y="376.25" width="15.9" height="2.75" class="w"/>
<rect x="253.5" y="382" width="14" height="50.5" class="w"/>
<circle cx="260" cy="395" r="4.6" class="w"/>
<circle cx="260" cy="419.4" r="4.6" class="w"/>
<line x1="253.5" y1="435" x2="263.75" y2="435" class="w"/>
<line x1="263.75" y1="436.6" x2="280" y2="436.6" class="k3"/>
<rect x="253.5" y="438.1" width="20.9" height="46.3" class="w"/>
<ellipse cx="264" cy="459" rx="8.8" ry="17.6" class="w"/>
<ellipse cx="264" cy="459" rx="7.4" ry="16.2" class="th"/>
<path d="M253.5,487.25 H274.1 L289.1,500 M272.5,487.25 L287.25,501.5 V528 M289.75,500 V528 M287.25,500 H289.75" class="w"/>
<line x1="254" y1="487.5" x2="287.25" y2="528" class="th"/>
<line x1="254" y1="528" x2="282.5" y2="492.5" class="th"/>
<line x1="275.4" y1="488.1" x2="291.6" y2="488.1" class="k"/>
<path d="M291.6,488.1 Q292.5,496 286.8,499.6" class="th"/>
<path d="M274.4,484.4 L277,487.25" class="w"/>
<rect x="292.25" y="514.75" width="26" height="13.25" class="w"/>
<circle cx="304.75" cy="521.9" r="4.4" class="w"/>
<line x1="304.75" y1="525.5" x2="304.75" y2="527" class="th"/>
<path d="M319.75,528 V512.5 H322.5 V528" class="w"/>
<rect x="322.5" y="521.25" width="17.25" height="6.75" class="th"/>
<line x1="341" y1="495" x2="341" y2="511.25" class="k3"/>
<path d="M339.75,511.25 V528 M342.25,511.25 V528 M339.75,511.25 H342.25" class="w"/>
<path d="M328.5,511.5 L333.5,504.5 L338.5,511.5" class="b"/>
<rect x="373" y="491" width="3" height="6.5" class="th"/>
<path d="M373,490.5 C367,489 362,492 362,494.25 C362,496.5 367,499.5 373,498.0" class="th"/>
<rect x="372.5" y="509.5" width="3" height="10.5" class="th"/>
<path d="M372.5,509.0 C366.5,507.5 357.5,510.5 357.5,514.75 C357.5,519.0 366.5,522.0 372.5,520.5" class="th"/>
<rect x="421.5" y="478.75" width="14" height="13.25" class="th"/>
<rect x="423" y="480" width="11" height="10.5" class="th"/>
<rect x="421.5" y="494.5" width="14" height="15" class="th"/>
<rect x="421.5" y="509.5" width="14" height="18.5" class="th"/>
<rect x="423" y="513" width="11" height="13" class="th"/>
<path d="M421.5,478.75 V528" class="w"/>
<circle cx="697" cy="461" r="6.5" class="th"/>
<circle cx="702" cy="506.8" r="4.4" class="w"/>
<rect x="733" y="510.5" width="9.75" height="3" class="th"/>
<path d="M732.5,510.5 C731,504.5 734,497 737.875,497 C741.75,497 744.75,504.5 743.25,510.5" class="th"/>
<text transform="translate(633.5,28.6)" class="t tt" font-size="12.5">1834 BREAKERS WEST COURT</text>
<text transform="translate(423,95)" class="t" font-size="9.5">SWIMMING POOL</text>
<text transform="translate(423,106.5)" class="t" font-size="9.5">36' X 20'</text>
<text transform="translate(571.5,224.3)" class="t" font-size="9.5">COVERED</text>
<text transform="translate(571.5,235.3)" class="t" font-size="9.5">TERRACE</text>
<text transform="translate(294.5,240.5)" class="t" font-size="9.5">SITTING</text>
<text transform="translate(294.5,252)" class="t" font-size="9.5">AREA</text>
<text transform="translate(472.5,260.3)" class="t" font-size="9.5">BREAKFAST</text>
<text transform="translate(472.5,271.5)" class="t" font-size="9.5">AREA</text>
<text transform="translate(311,307.5)" class="t" font-size="9.5">MASTER SUITE</text>
<text transform="translate(311,318.75)" class="t" font-size="9.5">23' X 18'</text>
<text transform="translate(430,306)" class="t" font-size="9.5">KITCHEN</text>
<text transform="translate(431,349.9)" class="t" font-size="9.5">17'X 14'</text>
<text transform="translate(555.5,331)" class="t" font-size="9.5">LIVING ROOM</text>
<text transform="translate(555.5,342.1)" class="t" font-size="9.5">24' X 20'</text>
<text transform="translate(694.5,372.3)" class="t" font-size="9.5">BEDROOM</text>
<text transform="translate(694.5,383)" class="t" font-size="9.5">15' X 13'</text>
<text transform="translate(336,436)" class="t" font-size="9.5">WALK IN</text>
<text transform="translate(337,448)" class="t" font-size="9.5">CLOSET</text>
<text transform="translate(560.5,443)" class="t" font-size="9.5">FOYER</text>
<text transform="translate(305,475)" class="t" font-size="9.5">MASTER</text>
<text transform="translate(305,486)" class="t" font-size="9.5">BATH</text>
<text transform="translate(406,464.5)" class="t" font-size="9.5">LAUNDRY</text>
<text transform="translate(406,476)" class="t" font-size="9.5">14'6 X 8'5</text>
<text transform="translate(477.5,478.5)" class="t" font-size="9.5">DINING ROOM</text>
<text transform="translate(477.5,490)" class="t" font-size="9.5">15' X 12'</text>
<text transform="translate(710.5,489)" class="t" font-size="9.5">BATH</text>
<text transform="translate(563.5,513)" class="t" font-size="9.5">COVERED</text>
<text transform="translate(563.5,524)" class="t" font-size="9.5">ENTRY</text>
<text transform="translate(694.5,556.5)" class="t" font-size="9.5">BEDROOM</text>
<text transform="translate(694.5,568)" class="t" font-size="9.5">15' X 13'</text>
<text transform="translate(325.5,604.5)" class="t" font-size="9.5">2 CAR GARAGE</text>
<text transform="translate(325.5,615.5)" class="t" font-size="9.5">22' X 22'</text>
</svg>
</body></html>
